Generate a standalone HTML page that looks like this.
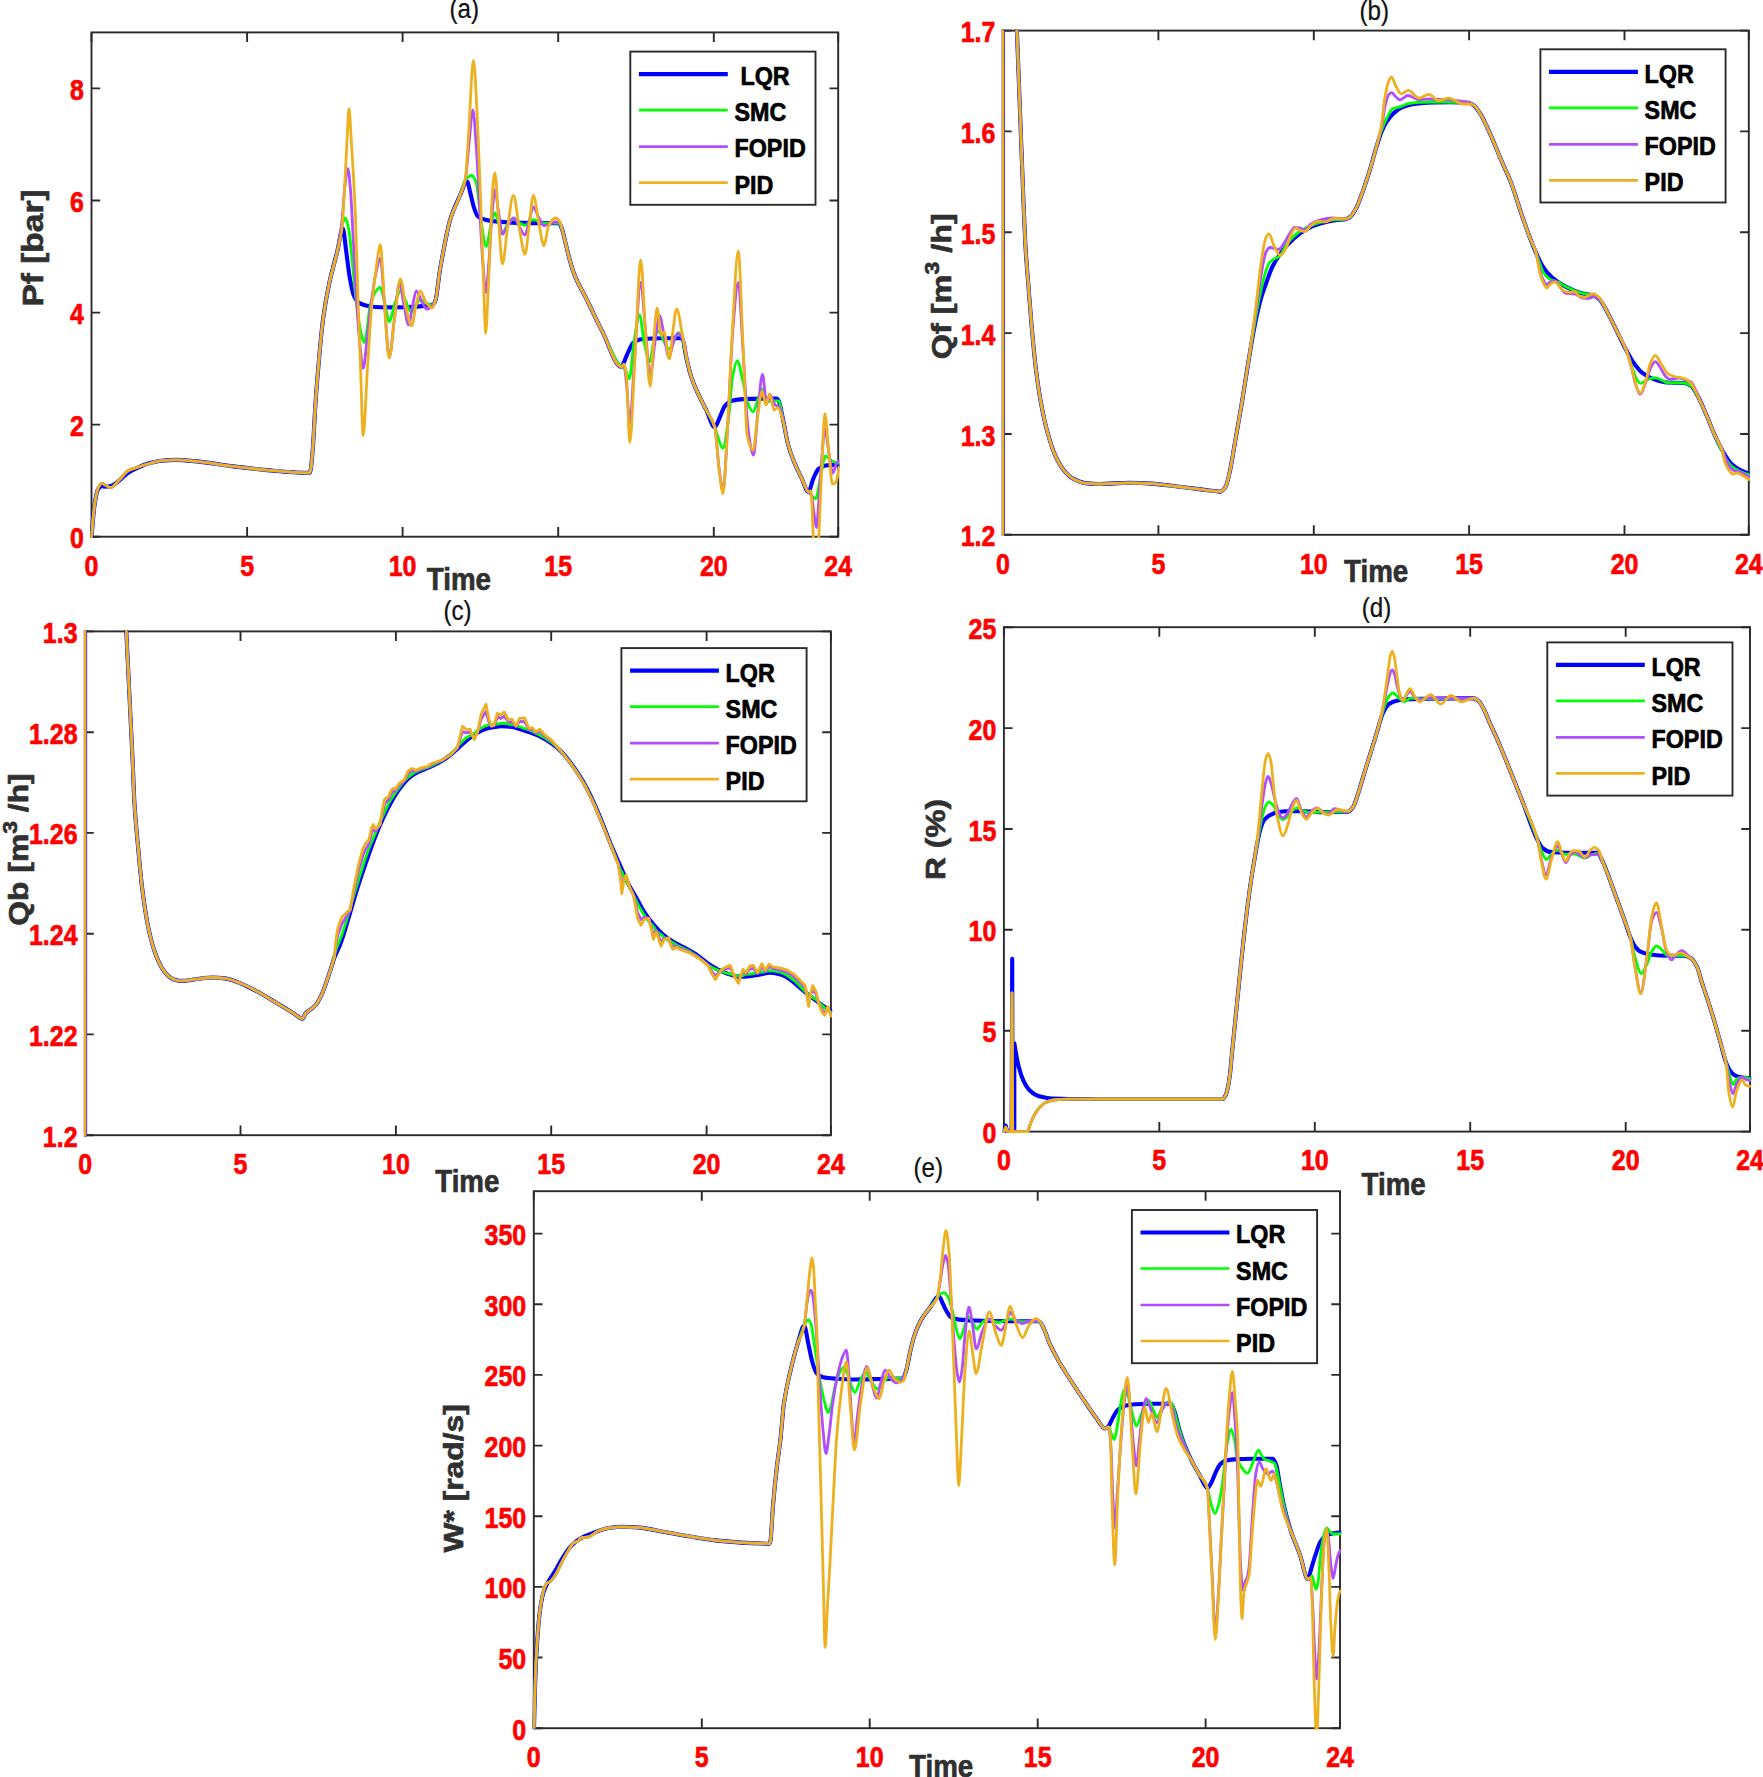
<!DOCTYPE html>
<html lang="en"><head><meta charset="utf-8"><title>Controller comparison</title>
<style>html,body{margin:0;padding:0;background:#fff}body{width:1763px;height:1777px;overflow:hidden}</style></head>
<body>
<svg width="1763" height="1777" viewBox="0 0 1763 1777" style="display:block;font-family:'Liberation Sans',sans-serif">
<rect width="1763" height="1777" fill="#fff"/>
<path d="M91.5,536.7v-9.6M91.5,32.4v9.6M247.1,536.7v-9.6M247.1,32.4v9.6M402.6,536.7v-9.6M402.6,32.4v9.6M558.2,536.7v-9.6M558.2,32.4v9.6M713.8,536.7v-9.6M713.8,32.4v9.6M838.2,536.7v-9.6M838.2,32.4v9.6M91.5,536.7h8.7M838.2,536.7h-8.7M91.5,424.6h8.7M838.2,424.6h-8.7M91.5,312.6h8.7M838.2,312.6h-8.7M91.5,200.5h8.7M838.2,200.5h-8.7M91.5,88.4h8.7M838.2,88.4h-8.7" stroke="#2a2a2a" stroke-width="1.9" fill="none"/>
<rect x="91.5" y="32.4" width="746.7" height="504.3" fill="none" stroke="#2a2a2a" stroke-width="1.9"/>
<clipPath id="ca"><rect x="90.2" y="31.1" width="749.3" height="506.9"/></clipPath>
<g clip-path="url(#ca)" fill="none" stroke-linejoin="round" stroke-linecap="round">
<path d="M91.6,536.6C92.6,523.6 93.5,511.9 94.5,505.5C95.6,498 96.8,491.1 97.9,489.5C99.2,487.7 100.5,486.3 101.8,486.3C103,486.3 104.3,486.6 105.5,486.6C107.2,486.6 108.9,486.3 110.6,486C113.4,485.5 116.3,482.7 119.1,480.6C122.2,478.3 125.4,474.7 128.5,472.6C131.1,470.9 133.6,469.6 136.2,468.4C140.2,466.5 144.1,464.5 148.1,463.4C152.6,462.2 157.2,461.1 161.7,460.7C166.2,460.3 170.8,459.9 175.3,459.9C183.2,459.9 191.2,460.9 199.1,461.6C210.4,462.7 221.8,465 233.1,466.4C244.5,467.8 255.8,469 267.2,470.1C275.7,470.9 284.2,471.9 292.7,472.3C298.4,472.5 304,472.8 309.7,472.8C310,472.8 310.3,471.3 310.6,470C311.4,466.5 312.2,455.8 313,445.7C313.8,435.1 314.7,415.2 315.5,403.1C316.6,386.6 317.8,373.2 318.9,360.6C320.3,344.7 321.8,328.7 323.2,318.1C325.2,303.6 327.1,293.4 329.1,284C331.9,270.5 334.8,261.7 337.6,250C339.3,243 341,228.3 342.7,228.3C343.9,228.3 345,243 346.2,251.2C347.3,259.1 348.5,270.3 349.6,276.7C351,284.6 352.4,292.1 353.8,295.4C355.2,298.8 356.7,301.1 358.1,302.2C360.4,303.9 362.6,304.7 364.9,305.3C368.3,306.2 371.7,306.9 375.1,307C380.8,307.2 386.4,307.4 392.1,307.4C397.8,307.4 403.4,307.2 409.1,307C414.8,306.8 420.4,306.3 426.1,305.6C428.7,305.3 431.2,305.2 433.8,304C434.4,303.7 434.9,302.2 435.5,300.5C436.9,296.4 438.3,280.2 439.7,271.6C441.1,262.8 442.6,255 444,247.8C446,237.9 447.9,227.1 449.9,220.6C453.3,209.2 456.8,202.6 460.2,195C462.5,190 464.7,181.4 467,181.4C468.1,181.4 469.3,189.1 470.4,193.3C471.5,197.5 472.7,203.5 473.8,207C474.9,210.5 476.1,214.3 477.2,215.5C478.9,217.4 480.6,218.3 482.3,218.9C485.1,219.9 488,220.5 490.8,220.9C497.6,221.8 504.4,222.4 511.2,222.6C519.7,222.9 528.2,223.1 536.7,223.1C544.1,223.1 551.4,223.1 558.8,223.1C559.9,223.1 560.9,226.3 562,229C563,231.6 564.1,237.1 565.1,241.2C566.8,247.9 568.5,255.8 570.2,261.6C571.9,267.4 573.6,272.8 575.3,276.9C578.7,285.2 582.1,290.2 585.5,297C591.2,308.4 596.8,320.8 602.5,331.9C608.8,344.1 615,366.8 621.3,366.8C621.6,366.8 621.8,366.3 622.1,365.9C624.1,363.1 626.1,356.4 628.1,352.3C629.8,348.9 631.5,344.3 633.2,342.9C635.5,341.1 637.7,339.9 640,339.5C642.8,339 645.7,338.9 648.5,338.7C653,338.5 657.6,338.2 662.1,338.2C668.3,338.2 674.6,338.2 680.8,338.2C681.4,338.2 681.9,338.4 682.5,338.7C683.6,339.3 684.8,350.6 685.9,355.7C687.6,363.3 689.3,370.8 691,376.1C693.3,383.2 695.5,388 697.8,393.1C700.6,399.4 703.5,404.5 706.3,410.2C709.1,415.9 712,427.2 714.8,427.2C716.5,427.2 718.2,420.5 719.9,417C721.6,413.5 723.3,407.8 725,405.9C727.3,403.3 729.6,401.4 731.9,400.8C735.9,399.8 739.8,399.3 743.8,399.1C749.5,398.8 755.1,398.6 760.8,398.6C766.2,398.6 771.6,398.6 777,398.6C777.6,398.6 778.1,399.8 778.7,400.8C780.1,403.4 781.5,412.3 782.9,418.7C784.6,426.5 786.3,437.8 788,444.2C789.7,450.6 791.4,455.1 793.1,459.5C795.9,466.8 798.8,472.3 801.6,478.2C803.9,482.9 806.1,491.8 808.4,491.8C810.1,491.8 811.8,481.9 813.5,478.2C815.2,474.5 816.9,470.3 818.6,468.9C820.9,467.1 823.1,465.8 825.4,465.5C827.7,465.2 830,464.9 832.3,464.9C834.5,464.9 836.8,465.1 839,465.5" stroke="#0000ff" stroke-width="4.1"/>
<path d="M91.6,536.6C92.6,523.7 93.5,512.2 94.5,505.5C95.6,497.7 96.8,490.9 97.9,488.5C99.2,485.8 100.5,483.4 101.8,483.4C103,483.4 104.3,484.5 105.5,485.1C107.2,485.9 108.9,487.5 110.6,487.5C113.4,487.5 116.3,482.7 119.1,480C122.2,477.1 125.4,472.3 128.5,470.6C131.1,469.2 133.6,468.5 136.2,467.6C140.2,466.2 144.1,464.9 148.1,463.8C152.6,462.6 157.2,461.1 161.7,460.7C166.2,460.3 170.8,459.9 175.3,459.9C183.2,459.9 191.2,460.9 199.1,461.6C210.4,462.7 221.8,465 233.1,466.4C244.5,467.8 255.8,469 267.2,470.1C275.7,470.9 284.2,471.9 292.7,472.3C298.4,472.5 304,472.8 309.7,472.8C310,472.8 310.3,471.3 310.6,470C311.4,466.5 312.2,455.8 313,445.7C313.8,435.1 314.7,415.2 315.5,403.1C316.6,386.6 317.8,373.2 318.9,360.6C320.3,344.7 321.8,328.7 323.2,318.1C325.2,303.6 327.1,293.4 329.1,284C331.9,270.5 334.8,263.4 337.6,250C339,243.2 340.5,230.7 341.9,226C343,222.3 344.2,218 345.3,218C346.4,218 347.6,223.7 348.7,229.1C349.8,234.5 351,248.7 352.1,259.7C353.2,270.7 354.4,285.3 355.5,295.4C356.4,303.2 357.2,310 358.1,315.9C359.1,322.4 360,329.2 361,333C362.1,337.4 363.3,342.7 364.4,342.7C365.3,342.7 366.3,333.9 367.2,328C368.1,322.1 369.1,310.1 370,306.2C371.7,299.1 373.4,295 375.1,292.5C376.8,290 378.5,287.4 380.2,287.4C381.6,287.4 383,295.9 384.4,301C386,306.9 387.6,321.5 389.2,321.5C391.3,321.5 393.4,306.2 395.5,301C397.2,296.8 398.9,290.8 400.6,290.8C402.3,290.8 404,297.5 405.7,301C407.5,304.6 409.2,312 411,312C414,312 417,300 420,300C423.7,300 427.3,305 431,305C431.9,305 432.9,304.6 433.8,304C434.4,303.6 434.9,302.2 435.5,300.5C436.9,296.4 438.3,280.2 439.7,271.6C441.1,262.8 442.6,255 444,247.8C446,237.9 447.9,227.1 449.9,220.6C453.3,209.2 456.8,204.4 460.2,195C461.9,190.3 463.6,181.6 465.3,179.7C467.4,177.3 469.6,175.5 471.7,175.5C473.2,175.5 474.8,178.9 476.3,183.1C477.7,187 479.2,208.1 480.6,217.2C482.5,229.1 484.3,246.4 486.2,246.4C487.7,246.4 489.3,231.3 490.8,225.7C492.2,220.7 493.5,212.9 494.9,212.9C496.1,212.9 497.2,219.1 498.4,222.3C499.7,225.8 500.9,233.3 502.2,233.3C504.1,233.3 505.9,226 507.8,224C509.8,221.8 511.8,219.2 513.8,219.2C515.8,219.2 517.7,222.1 519.7,223.1C521.4,224 523.1,225.3 524.8,225.3C527.6,225.3 530.5,219.7 533.3,219.7C536.7,219.7 540.1,223.1 543.5,223.1C548.6,223.1 553.7,223.1 558.8,223.1C559.9,223.1 560.9,226.3 562,229C563,231.6 564.1,237.1 565.1,241.2C566.8,247.9 568.5,255.8 570.2,261.6C571.9,267.4 573.6,272.8 575.3,276.9C578.7,285.2 582.1,290.2 585.5,297C591.2,308.4 596.8,320.8 602.5,331.9C608.8,344.1 615,361.7 621.3,366.8C622.5,367.8 623.8,367.9 625,369C626.4,370.3 627.9,378.7 629.3,378.7C630.9,378.7 632.4,351.6 634,342.1C635.8,330.9 637.7,314.9 639.5,314.9C641.1,314.9 642.6,335.1 644.2,342.1C646,350.2 647.9,361.7 649.7,361.7C651,361.7 652.3,346.6 653.6,342.1C655,337.2 656.4,331 657.8,331C661.5,331 665.2,348.9 668.9,348.9C672.1,348.9 675.4,332.7 678.6,332.7C679.9,332.7 681.2,335 682.5,337.8C683.6,340.2 684.8,350.5 685.9,355.7C687.6,363.5 689.3,370.8 691,376.1C693.3,383.2 695.5,388 697.8,393.1C700.6,399.4 703.5,404.5 706.3,410.2C709.1,415.9 712,420.1 714.8,427.2C716.2,430.8 717.7,437.2 719.1,440.8C720.3,443.9 721.6,448.4 722.8,448.4C724.7,448.4 726.6,432 728.5,418.7C729.9,408.9 731.3,383.2 732.7,376.1C734.2,368.4 735.8,360.8 737.3,360.8C739.2,360.8 741,373.5 742.9,381.2C744.3,387.1 745.8,397.9 747.2,401.6C749.2,406.7 751.1,411.9 753.1,411.9C754.8,411.9 756.5,402.3 758.2,398.2C759.6,394.8 761.1,388.9 762.5,388.9C763.9,388.9 765.3,401.6 766.7,401.6C769.8,401.6 773,400.8 776.1,400.8C777,400.8 777.8,400.8 778.7,400.8C780.1,400.8 781.5,412.3 782.9,418.7C784.6,426.5 786.3,437.8 788,444.2C789.7,450.6 791.4,455.1 793.1,459.5C795.9,466.8 798.8,472.3 801.6,478.2C803.9,482.9 806.1,488.5 808.4,491.8C809.4,493.3 810.5,494.5 811.5,495.5C812.9,496.8 814.3,498.6 815.7,498.6C817.2,498.6 818.8,484.9 820.3,478.2C822,470.7 823.7,456.1 825.4,456.1C827.7,456.1 830,460.1 832.3,461.2C834,462 835.6,462.8 837.3,462.9C837.9,463 838.4,463 839,463" stroke="#00ff00" stroke-width="2.8"/>
<path d="M91.6,536.6C92.6,523.7 93.5,512.2 94.5,505.5C95.6,497.7 96.8,490.9 97.9,488.5C99.2,485.8 100.5,483.4 101.8,483.4C103,483.4 104.3,484.5 105.5,485.1C107.2,485.9 108.9,487.5 110.6,487.5C113.4,487.5 116.3,482.7 119.1,480C122.2,477.1 125.4,472.3 128.5,470.6C131.1,469.2 133.6,468.5 136.2,467.6C140.2,466.2 144.1,464.9 148.1,463.8C152.6,462.6 157.2,461.1 161.7,460.7C166.2,460.3 170.8,459.9 175.3,459.9C183.2,459.9 191.2,460.9 199.1,461.6C210.4,462.7 221.8,465 233.1,466.4C244.5,467.8 255.8,469 267.2,470.1C275.7,470.9 284.2,471.9 292.7,472.3C298.4,472.5 304,472.8 309.7,472.8C310,472.8 310.3,471.3 310.6,470C311.4,466.5 312.2,455.8 313,445.7C313.8,435.1 314.7,415.2 315.5,403.1C316.6,386.6 317.8,373.2 318.9,360.6C320.3,344.7 321.8,328.7 323.2,318.1C325.2,303.6 327.1,293.4 329.1,284C331.9,270.5 334.8,264.4 337.6,250C339,242.7 340.5,234.3 341.9,222C342.9,213.2 344,192.9 345,185C346,177.6 346.9,168.7 347.9,168.7C348.8,168.7 349.6,180.2 350.5,190C351.3,199.4 352.2,219.6 353,235C354,253.5 355,276 356,292C357.2,310.7 358.3,328.5 359.5,340C360.7,352.1 362,368.3 363.2,368.3C364.5,368.3 365.7,350.2 367,340C368.3,329.3 369.7,315.1 371,305C372.5,293.6 374,281.7 375.5,275C377.1,267.7 378.8,258.5 380.4,258.5C381.7,258.5 383.1,288.1 384.4,303C386,320.9 387.6,357 389.2,357C391,357 392.7,330.7 394.5,318C396.2,306 397.8,283 399.5,283C401,283 402.5,298.1 404,305C405.5,312 407.1,324.9 408.6,324.9C409.9,324.9 411.2,311.7 412.5,306C413.8,300.5 415,290.8 416.3,290.8C418,290.8 419.8,298.1 421.5,301C423.3,304.1 425.2,309.2 427,309.2C429.3,309.2 431.5,306.8 433.8,304C434.4,303.3 434.9,302.2 435.5,300.5C436.9,296.4 438.3,280.2 439.7,271.6C441.1,262.8 442.6,255 444,247.8C446,237.9 447.9,227.1 449.9,220.6C453.3,209.2 456.8,204.4 460.2,195C461.9,190.3 463.6,187.7 465.3,179.7C466.5,174 467.7,156 468.9,145C470.2,132.8 471.6,110 472.9,110C474.1,110 475.3,133.3 476.5,150C477.7,166.2 478.8,194.5 480,215C481,232.5 482,253.2 483,265C484,276.8 485,292.5 486,292.5C487,292.5 488,272.6 489,260C490,247.4 491,225.9 492,215C493,204.4 493.9,190 494.9,190C496.1,190 497.3,204.9 498.5,212C499.8,219.7 501.1,234.2 502.4,234.2C504.3,234.2 506.1,227.6 508,225C509.9,222.3 511.9,218 513.8,218C515.7,218 517.6,224.1 519.5,227C521.3,229.8 523.2,235 525,235C526.4,235 527.8,225.7 529.2,221C530.6,216.4 531.9,207 533.3,207C535,207 536.8,214 538.5,217C540.3,220.2 542.2,225.7 544,225.7C547.8,225.7 551.6,222 555.4,222C556.8,222 558.3,222 559.7,222C560.5,222 561.2,226.4 562,229C563,232.5 564.1,237.1 565.1,241.2C566.8,247.9 568.5,255.8 570.2,261.6C571.9,267.4 573.6,272.8 575.3,276.9C578.7,285.2 582.1,290.2 585.5,297C591.2,308.4 596.8,320.8 602.5,331.9C608.8,344.1 615,366.8 621.3,366.8C622.2,366.8 623.1,366 624,366C624.9,366 625.7,377.2 626.6,385C627.7,394.6 628.7,423.8 629.8,423.8C631.4,423.8 632.9,380.3 634.5,360C636.6,332.8 638.7,282.5 640.8,282.5C642.3,282.5 643.8,313.1 645.3,328C646.9,344.3 648.6,376.1 650.2,376.1C651.8,376.1 653.4,352.3 655,342C656.5,332.4 658,315.7 659.5,315.7C661,315.7 662.5,328.4 664,335C665.6,342.2 667.3,357.4 668.9,357.4C670.4,357.4 671.8,346.9 673.3,343C674.7,339.3 676,333.6 677.4,333.6C679.7,333.6 681.9,336.9 684.2,342.1C685.1,344.1 685.9,353 686.8,357.4C688.2,364.6 689.6,371.5 691,376.1C693.3,383.5 695.5,388 697.8,393.1C700.6,399.4 703.5,404.5 706.3,410.2C709.1,415.9 712,417.1 714.8,427.2C716.2,432.3 717.7,458.4 719.1,468.5C720.4,477.7 721.7,490.5 723,490.5C724.5,490.5 726.1,452.1 727.6,428C729.3,401.2 731,352.8 732.7,332C734.5,309.6 736.4,282.5 738.2,282.5C739.8,282.5 741.4,326.3 743,350C744.7,374.6 746.3,415.4 748,428C749.8,441.9 751.7,455.2 753.5,455.2C755,455.2 756.5,423.3 758,410C759.5,396.7 761,374.4 762.5,374.4C763.9,374.4 765.3,403.3 766.7,403.3C767.8,403.3 769,394.8 770.1,394.8C771.8,394.8 773.5,403.7 775.2,405C776.6,406.1 778.1,405.8 779.5,407C780.7,408 782,414.9 783.2,420C784.8,426.6 786.4,438.2 788,444.2C789.7,450.6 791.4,455.1 793.1,459.5C795.9,466.8 798.8,472.3 801.6,478.2C803.9,482.9 806.1,488.8 808.4,491.8C809.4,493.2 810.5,493.1 811.5,495C812.3,496.4 813,506.9 813.8,512C814.7,517.8 815.5,527.6 816.4,527.6C817.3,527.6 818.3,507 819.2,495C820.1,483 821.1,465.1 822,455C823,444.2 824,428.9 825,428.9C826.3,428.9 827.5,444.8 828.8,452C830.1,459.5 831.5,473.1 832.8,473.1C834.3,473.1 835.8,463.3 837.3,462C837.9,461.5 838.4,461 839,461" stroke="#b24dff" stroke-width="2.8"/>
<path d="M91.6,536.6C92.6,523.7 93.5,512.2 94.5,505.5C95.6,497.7 96.8,490.9 97.9,488.5C99.2,485.8 100.5,483.4 101.8,483.4C103,483.4 104.3,484.5 105.5,485.1C107.2,485.9 108.9,487.5 110.6,487.5C113.4,487.5 116.3,482.7 119.1,480C122.2,477.1 125.4,472.3 128.5,470.6C131.1,469.2 133.6,468.5 136.2,467.6C140.2,466.2 144.1,464.9 148.1,463.8C152.6,462.6 157.2,461.1 161.7,460.7C166.2,460.3 170.8,459.9 175.3,459.9C183.2,459.9 191.2,460.9 199.1,461.6C210.4,462.7 221.8,465 233.1,466.4C244.5,467.8 255.8,469 267.2,470.1C275.7,470.9 284.2,471.9 292.7,472.3C298.4,472.5 304,472.8 309.7,472.8C310,472.8 310.3,471.3 310.6,470C311.4,466.5 312.2,455.8 313,445.7C313.8,435.1 314.7,415.2 315.5,403.1C316.6,386.6 317.8,373.2 318.9,360.6C320.3,344.7 321.8,328.7 323.2,318.1C325.2,303.6 327.1,293.4 329.1,284C331.9,270.5 334.8,262.6 337.6,250C339,243.6 340.5,240.1 341.9,229.1C342.7,222.7 343.6,205.8 344.4,191.6C345.3,176.9 346.1,155.8 347,140.6C347.7,128.9 348.3,108.6 349,108.6C349.8,108.6 350.5,128.7 351.3,140.6C352.7,162.4 354.1,183.7 355.5,217.2C356.4,238 357.2,276.7 358.1,302.2C358.9,326.7 359.8,347.3 360.6,369.1C361.5,391.8 362.3,435.5 363.2,435.5C364.6,435.5 366,390.4 367.4,369.1C368.8,347.3 370.3,321.6 371.7,306.2C373.1,291.1 374.5,280 375.9,270.4C377.4,260.1 378.9,244.7 380.4,244.7C381.7,244.7 383.1,285 384.4,302.2C386,322.8 387.6,358 389.2,358C391,358 392.8,330.8 394.6,318.1C396.5,304.4 398.5,278.9 400.4,278.9C402.2,278.9 403.9,299.1 405.7,306.2C407.7,314.2 409.7,325.7 411.7,325.7C413.1,325.7 414.5,311.9 415.9,306.2C417.3,300.4 418.8,290.8 420.2,290.8C422.2,290.8 424.1,300.3 426.1,302.7C428.1,305.1 430.1,307.9 432.1,307.9C433.2,307.9 434.4,304.2 435.5,300.5C436.9,296 438.3,280.2 439.7,271.6C441.1,262.8 442.6,255 444,247.8C446,237.9 447.9,227.1 449.9,220.6C453.3,209.2 456.8,204.4 460.2,195C461.9,190.3 463.6,188.5 465.3,179.7C466.4,173.8 467.6,148.6 468.7,132.1C470.3,109.3 471.8,60.3 473.4,60.3C474.7,60.3 475.9,91.8 477.2,115.1C478.3,135.9 479.5,170.6 480.6,200.2C481.4,222 482.3,246.5 483.1,268.2C484,290.8 484.8,333 485.7,333C486.5,333 487.4,306.5 488.2,290C488.8,278.8 489.3,264.2 489.9,251.2C490.8,231.4 491.6,201.6 492.5,191.6C493.3,182.4 494.1,172.9 494.9,172.9C496.1,172.9 497.2,203 498.4,217.2C499.7,233.4 501.1,264 502.4,264C504.2,264 506,236.8 507.8,225.7C509.7,214.2 511.5,195.4 513.4,195.4C515.5,195.4 517.6,220.4 519.7,230.8C521.5,239.5 523.2,254.3 525,254.3C526.4,254.3 527.7,235.4 529.1,225.7C530.5,215.8 531.9,195.4 533.3,195.4C535.3,195.4 537.3,216.5 539.3,225.7C540.9,232.9 542.4,245.8 544,245.8C545.5,245.8 547.1,228.6 548.6,225.7C550.9,221.5 553.1,218 555.4,218C556.8,218 558.3,219.5 559.7,221.4C560.5,222.4 561.2,226.3 562,229C563,232.7 564.1,237.1 565.1,241.2C566.8,247.9 568.5,255.8 570.2,261.6C571.9,267.4 573.6,272.8 575.3,276.9C578.7,285.2 582.1,290.2 585.5,297C591.2,308.4 596.8,320.8 602.5,331.9C608.8,344.1 615,366.8 621.3,366.8C622.1,366.8 623,364.2 623.8,364.2C624.7,364.2 625.5,369.8 626.4,376.1C627.5,384.3 628.7,442.5 629.8,442.5C631.5,442.5 633.2,387.2 634.9,359.1C636.9,326.5 638.8,260.1 640.8,260.1C642.2,260.1 643.7,305.9 645.1,325.1C646.8,347.9 648.5,386.3 650.2,386.3C651.3,386.3 652.5,354.9 653.6,342.1C654.7,329.3 655.9,308.1 657,308.1C658.4,308.1 659.8,335.3 661.2,335.3C662.2,335.3 663.1,331.9 664.1,331.9C665.9,331.9 667.6,359.1 669.4,359.1C670.7,359.1 671.9,337 673.2,328.5C674.3,320.9 675.5,308.9 676.6,308.9C678.6,308.9 680.5,325.5 682.5,335.3C683.9,342.4 685.4,352.4 686.8,359.1C688.2,365.6 689.6,371.7 691,376.1C693.3,383.2 695.5,388 697.8,393.1C700.6,399.4 703.5,404.5 706.3,410.2C709.1,415.9 712,417 714.8,427.2C716.2,432.3 717.7,458.9 719.1,469.7C720.4,479.5 721.7,493.5 723,493.5C724.5,493.5 726.1,452.8 727.6,427.2C729.3,398.8 731,352.5 732.7,325.1C734.5,295.5 736.4,251.1 738.2,251.1C739.8,251.1 741.3,310 742.9,342.1C744.3,371.5 745.8,429.1 747.2,435.7C749.2,444.7 751.1,450.1 753.1,450.1C754.5,450.1 756,428 757.4,418.7C759,408.5 760.5,391.4 762.1,391.4C763.4,391.4 764.6,405 765.9,405C767.1,405 768.4,394 769.6,394C771.1,394 772.6,410.2 774.1,410.2C775.3,410.2 776.6,407.6 777.8,407.6C779.5,407.6 781.2,414.9 782.9,420.4C784.6,425.9 786.3,438 788,444.2C789.7,450.4 791.4,455.1 793.1,459.5C795.9,466.8 798.8,472.3 801.6,478.2C803.9,482.9 806.1,491.8 808.4,491.8C809.3,491.8 810.1,491 811,491C811.8,491 812.7,529.9 813.5,540C814.5,552.2 815.5,566 816.5,566C817.2,566 817.9,551 818.6,540C819.7,522.1 820.9,482.9 822,461.2C823,442.7 823.9,413.6 824.9,413.6C826.2,413.6 827.5,440.9 828.8,452.7C830.1,464.2 831.3,484.2 832.6,484.2C834.7,484.2 836.9,484.2 839,467.2" stroke="#edb120" stroke-width="2.8"/>
</g>
<text transform="translate(91.5,575.6) scale(0.84,1)" font-size="29.7" fill="#ff0000" text-anchor="middle" font-weight="bold" stroke="#ff0000" stroke-width="0.7" stroke-linejoin="round">0</text>
<text transform="translate(247.1,575.6) scale(0.84,1)" font-size="29.7" fill="#ff0000" text-anchor="middle" font-weight="bold" stroke="#ff0000" stroke-width="0.7" stroke-linejoin="round">5</text>
<text transform="translate(402.6,575.6) scale(0.84,1)" font-size="29.7" fill="#ff0000" text-anchor="middle" font-weight="bold" stroke="#ff0000" stroke-width="0.7" stroke-linejoin="round">10</text>
<text transform="translate(558.2,575.6) scale(0.84,1)" font-size="29.7" fill="#ff0000" text-anchor="middle" font-weight="bold" stroke="#ff0000" stroke-width="0.7" stroke-linejoin="round">15</text>
<text transform="translate(713.8,575.6) scale(0.84,1)" font-size="29.7" fill="#ff0000" text-anchor="middle" font-weight="bold" stroke="#ff0000" stroke-width="0.7" stroke-linejoin="round">20</text>
<text transform="translate(838.2,575.6) scale(0.84,1)" font-size="29.7" fill="#ff0000" text-anchor="middle" font-weight="bold" stroke="#ff0000" stroke-width="0.7" stroke-linejoin="round">24</text>
<text transform="translate(83.9,548.2) scale(0.84,1)" font-size="29.7" fill="#ff0000" text-anchor="end" font-weight="bold" stroke="#ff0000" stroke-width="0.7" stroke-linejoin="round">0</text>
<text transform="translate(83.9,436.1) scale(0.84,1)" font-size="29.7" fill="#ff0000" text-anchor="end" font-weight="bold" stroke="#ff0000" stroke-width="0.7" stroke-linejoin="round">2</text>
<text transform="translate(83.9,324.1) scale(0.84,1)" font-size="29.7" fill="#ff0000" text-anchor="end" font-weight="bold" stroke="#ff0000" stroke-width="0.7" stroke-linejoin="round">4</text>
<text transform="translate(83.9,212) scale(0.84,1)" font-size="29.7" fill="#ff0000" text-anchor="end" font-weight="bold" stroke="#ff0000" stroke-width="0.7" stroke-linejoin="round">6</text>
<text transform="translate(83.9,99.9) scale(0.84,1)" font-size="29.7" fill="#ff0000" text-anchor="end" font-weight="bold" stroke="#ff0000" stroke-width="0.7" stroke-linejoin="round">8</text>
<rect x="630.3" y="51.6" width="185.2" height="153.2" fill="#fff" stroke="#2a2a2a" stroke-width="1.9"/>
<path d="M638.9,74.1h88.9" stroke="#0000ff" stroke-width="4.2" fill="none"/>
<text transform="translate(740.4,85) scale(0.88,1)" font-size="26.5" fill="#000" text-anchor="start" font-weight="bold" stroke="#000" stroke-width="0.7" stroke-linejoin="round">LQR</text>
<path d="M638.9,110.1h88.9" stroke="#00ff00" stroke-width="2.7" fill="none"/>
<text transform="translate(734.5,121.2) scale(0.88,1)" font-size="26.5" fill="#000" text-anchor="start" font-weight="bold" stroke="#000" stroke-width="0.7" stroke-linejoin="round">SMC</text>
<path d="M638.9,146.6h88.9" stroke="#b24dff" stroke-width="2.7" fill="none"/>
<text transform="translate(734.5,157.4) scale(0.88,1)" font-size="26.5" fill="#000" text-anchor="start" font-weight="bold" stroke="#000" stroke-width="0.7" stroke-linejoin="round">FOPID</text>
<path d="M638.9,182.6h88.9" stroke="#edb120" stroke-width="2.7" fill="none"/>
<text transform="translate(734.5,193.7) scale(0.88,1)" font-size="26.5" fill="#000" text-anchor="start" font-weight="bold" stroke="#000" stroke-width="0.7" stroke-linejoin="round">PID</text>
<text transform="translate(464.3,18.2) scale(0.88,1)" font-size="27.5" fill="#111" text-anchor="middle" stroke="#111" stroke-width="0.25">(a)</text>
<text transform="translate(458.9,589.9) scale(0.88,1)" font-size="31.5" fill="#303030" text-anchor="middle" font-weight="bold" stroke="#303030" stroke-width="0.7" stroke-linejoin="round">Time</text>
<text transform="translate(42.6,248) rotate(-90) scale(1,0.88)" font-size="33.5" fill="#303030" text-anchor="middle" font-weight="bold" stroke="#303030" stroke-width="0.7" stroke-linejoin="round">Pf [bar]</text>
<path d="M1003,534.8v-9.6M1003,30.6v9.6M1158.4,534.8v-9.6M1158.4,30.6v9.6M1313.8,534.8v-9.6M1313.8,30.6v9.6M1469.1,534.8v-9.6M1469.1,30.6v9.6M1624.5,534.8v-9.6M1624.5,30.6v9.6M1748.8,534.8v-9.6M1748.8,30.6v9.6M1003,534.8h8.7M1748.8,534.8h-8.7M1003,434h8.7M1748.8,434h-8.7M1003,333.1h8.7M1748.8,333.1h-8.7M1003,232.3h8.7M1748.8,232.3h-8.7M1003,131.4h8.7M1748.8,131.4h-8.7M1003,30.6h8.7M1748.8,30.6h-8.7" stroke="#2a2a2a" stroke-width="1.9" fill="none"/>
<rect x="1003" y="30.6" width="745.8" height="504.2" fill="none" stroke="#2a2a2a" stroke-width="1.9"/>
<clipPath id="cb"><rect x="1001.7" y="29.3" width="748.4" height="506.8"/></clipPath>
<g clip-path="url(#cb)" fill="none" stroke-linejoin="round" stroke-linecap="round">
<path d="M1003,30.6V534.8M1016.9,30.6C1019.1,94 1021.2,149.4 1023.4,200C1024.2,217.9 1024.9,237.4 1025.7,250C1026.6,264.2 1027.4,272.9 1028.3,284C1029.4,298.5 1030.6,313.9 1031.7,326.6C1033.1,342.3 1034.5,357.8 1035.9,369.1C1037.6,382.9 1039.3,393.9 1041,403.1C1043.3,415.5 1045.6,425.6 1047.9,433.8C1050.2,441.9 1052.4,449.1 1054.7,454.2C1057.5,460.6 1060.4,466 1063.2,469.5C1066.6,473.7 1070,477.1 1073.4,478.9C1077.4,480.9 1081.3,482.7 1085.3,483.1C1089.8,483.6 1094.4,484 1098.9,484C1109.1,484 1119.3,482.8 1129.5,482.8C1136.9,482.8 1144.2,483.2 1151.6,483.6C1160.1,484.1 1168.7,485.5 1177.2,486.5C1185.7,487.5 1194.2,488.6 1202.7,489.6C1207.2,490.2 1211.8,490.9 1216.3,491.3C1217.7,491.4 1219.2,491.6 1220.6,491.6C1222.3,491.6 1224,489.2 1225.7,486.5C1227.1,484.3 1228.5,477.4 1229.9,471.2C1231.6,463.7 1233.3,452 1235,442.3C1237.3,429.4 1239.5,416.7 1241.8,403.1C1244.1,389.5 1246.3,374.3 1248.6,360.6C1250.2,350.8 1251.9,340.7 1253.5,332C1255,324 1256.5,316.4 1258,310C1259.3,304.4 1260.7,299.3 1262,295C1263.5,290 1265.1,286 1266.6,281.8C1268.6,276.4 1270.5,270.4 1272.5,266.5C1275.3,260.8 1278.2,256.7 1281,252.9C1285,247.5 1289,242.9 1293,239.3C1297.5,235.2 1302.1,231.5 1306.6,229.1C1311.1,226.7 1315.7,224.9 1320.2,223.6C1325.3,222.1 1330.4,220.9 1335.5,220.2C1338.9,219.7 1342.3,219.8 1345.7,219.2C1347.4,218.9 1349.1,217.7 1350.8,216.3C1352.5,214.9 1354.2,211.8 1355.9,208.7C1358.2,204.5 1360.4,197.8 1362.7,191.6C1365,185.4 1367.2,178.5 1369.5,171.2C1371.8,163.9 1374,154.7 1376.3,147.4C1378,141.9 1379.7,136.2 1381.4,132.1C1383.1,128 1384.8,124.5 1386.5,121.9C1388.8,118.4 1391,115.5 1393.3,113.4C1396.2,110.8 1399,108.6 1401.9,107.4C1405.9,105.8 1409.8,104.6 1413.8,104C1418.3,103.3 1422.9,102.8 1427.4,102.7C1435.3,102.5 1443.3,102.3 1451.2,102.3C1456.9,102.3 1462.5,102.4 1468.2,102.8C1469.9,102.9 1471.6,103.9 1473.3,104.9C1475.6,106.3 1477.8,109.9 1480.1,113.4C1482.9,117.7 1485.8,124.3 1488.6,130.4C1493.2,140.2 1497.7,152.2 1502.3,162.7C1505.1,169.1 1507.8,174.4 1510.6,181.5C1514.6,191.7 1518.6,205.9 1522.6,217.4C1525.1,224.5 1527.5,231.6 1530,238C1532.1,243.4 1534.1,248.6 1536.2,253.2C1538.5,258.2 1540.7,263.4 1543,266.8C1545.8,271.1 1548.7,274.5 1551.5,277C1556,281 1560.6,284 1565.1,286.3C1570.8,289.2 1576.4,291.7 1582.1,293.2C1586.1,294.3 1590,294.3 1594,295.7C1595.7,296.3 1597.4,297.6 1599.1,299.1C1601.9,301.7 1604.8,307.7 1607.6,312.7C1610.4,317.7 1613.3,324 1616.1,329.7C1619.5,336.5 1622.9,343.9 1626.3,350.2C1628.6,354.4 1630.9,358.8 1633.2,362.1C1636,366.1 1638.9,370.1 1641.7,372.3C1645.7,375.4 1649.6,377.7 1653.6,379.1C1658.1,380.7 1662.7,382.3 1667.2,382.5C1672.9,382.8 1678.5,382.6 1684.2,383C1686.5,383.1 1688.7,384.4 1691,385.9C1693.3,387.4 1695.5,392.1 1697.8,396.1C1700.6,401.1 1703.5,408.3 1706.3,414.8C1709.1,421.3 1712,429 1714.8,435.2C1717.6,441.4 1720.5,447.5 1723.3,452.2C1726.1,456.9 1729,461.6 1731.8,464.2C1734.7,466.8 1737.5,468.7 1740.4,470.1C1743.2,471.5 1746.1,472.8 1748.9,473.5" stroke="#0000ff" stroke-width="4.1"/>
<path d="M1016.9,30.6C1019.1,94 1021.2,149.4 1023.4,200C1024.2,217.9 1024.9,237.4 1025.7,250C1026.6,264.2 1027.4,272.9 1028.3,284C1029.4,298.5 1030.6,313.9 1031.7,326.6C1033.1,342.3 1034.5,357.8 1035.9,369.1C1037.6,382.9 1039.3,393.9 1041,403.1C1043.3,415.5 1045.6,425.6 1047.9,433.8C1050.2,441.9 1052.4,449.1 1054.7,454.2C1057.5,460.6 1060.4,466 1063.2,469.5C1066.6,473.7 1070,477.1 1073.4,478.9C1077.4,480.9 1081.3,482.7 1085.3,483.1C1089.8,483.6 1094.4,484 1098.9,484C1109.1,484 1119.3,482.8 1129.5,482.8C1136.9,482.8 1144.2,483.2 1151.6,483.6C1160.1,484.1 1168.7,485.5 1177.2,486.5C1185.7,487.5 1194.2,488.6 1202.7,489.6C1207.2,490.2 1211.8,490.9 1216.3,491.3C1217.7,491.4 1219.2,491.6 1220.6,491.6C1222.3,491.6 1224,489.2 1225.7,486.5C1227.1,484.3 1228.5,477.4 1229.9,471.2C1231.6,463.7 1233.3,452 1235,442.3C1237.3,429.4 1239.5,416.7 1241.8,403.1C1244.1,389.5 1246.3,374.5 1248.6,360.6C1250.2,350.6 1251.9,340.6 1253.5,331C1255,322.1 1256.5,312.8 1258,305C1259.3,298.1 1260.7,291.8 1262,286C1263.2,280.9 1264.3,275.6 1265.5,272C1266.7,268.3 1267.9,264.6 1269.1,263.1C1270.7,261 1272.4,260 1274,259C1275.8,257.9 1277.5,257.6 1279.3,256.3C1282.1,254.2 1285,246.2 1287.8,242.7C1291.2,238.5 1294.7,235 1298.1,232.5C1300.9,230.4 1303.8,228.7 1306.6,227.4C1311.1,225.3 1315.7,223.4 1320.2,222.3C1325.3,221.1 1330.4,220.1 1335.5,219.7C1338.9,219.5 1342.3,219.5 1345.7,219.2C1347.4,219 1349.1,217.7 1350.8,216.3C1352.5,214.9 1354.2,211.8 1355.9,208.7C1358.2,204.5 1360.4,197.8 1362.7,191.6C1365,185.4 1367.2,178.5 1369.5,171.2C1371.8,163.9 1374,155 1376.3,147.4C1378,141.7 1379.7,135.7 1381.4,131C1383.1,126.3 1384.8,121.8 1386.5,118.5C1388.5,114.7 1390.5,110.2 1392.5,109.1C1395.1,107.7 1397.6,107.5 1400.2,106.6C1403,105.6 1405.9,104 1408.7,103.5C1412.7,102.9 1416.6,102.4 1420.6,102.3C1425.1,102.1 1429.7,102 1434.2,102C1439.9,102 1445.5,102.2 1451.2,102.3C1456.9,102.4 1462.5,102.4 1468.2,102.8C1469.9,102.9 1471.6,103.9 1473.3,104.9C1475.6,106.3 1477.8,109.9 1480.1,113.4C1482.9,117.7 1485.8,124.3 1488.6,130.4C1493.2,140.2 1497.7,152.2 1502.3,162.7C1505.1,169.1 1507.8,174.4 1510.6,181.5C1514.6,191.7 1518.6,205.9 1522.6,217.4C1525.1,224.5 1527.5,231.6 1530,238C1532.1,243.4 1534.1,247.7 1536.2,253.2C1537.5,256.6 1538.7,260.5 1540,264C1541,266.7 1542,270.2 1543,271.9C1544.7,274.7 1546.4,276.5 1548.1,277.8C1549.7,279 1551.4,279.9 1553,280.5C1554.8,281.2 1556.5,281.4 1558.3,282.1C1560.6,283 1562.8,285.2 1565.1,286.3C1570.8,289.2 1576.4,291.7 1582.1,293.2C1586.1,294.3 1590,294.3 1594,295.7C1595.7,296.3 1597.4,297.6 1599.1,299.1C1601.9,301.7 1604.8,307.7 1607.6,312.7C1610.4,317.7 1613.3,324 1616.1,329.7C1619.5,336.5 1622.9,342 1626.3,350.2C1628.6,355.8 1630.9,364.5 1633.2,370.6C1634.5,374 1635.7,378.4 1637,380C1638.3,381.6 1639.5,383.3 1640.8,383.3C1643.4,383.3 1645.9,379.8 1648.5,379.1C1650.8,378.5 1653,377.9 1655.3,377.9C1657.2,377.9 1659.1,379.1 1661,379.8C1663.1,380.6 1665.1,382.4 1667.2,382.5C1672.9,382.9 1678.5,382.6 1684.2,383C1686.5,383.1 1688.7,384.4 1691,385.9C1693.3,387.4 1695.5,392.1 1697.8,396.1C1700.6,401.1 1703.5,408.3 1706.3,414.8C1709.1,421.3 1712,428.7 1714.8,435.2C1716.9,440 1718.9,444.7 1721,449C1722.7,452.5 1724.3,456.4 1726,459C1728,462.1 1730,464.9 1732,466.5C1734.8,468.8 1737.6,470.3 1740.4,471.5C1743.2,472.8 1746.1,473.8 1748.9,474.5" stroke="#00ff00" stroke-width="2.8"/>
<path d="M1016.9,30.6C1019.1,94 1021.2,149.4 1023.4,200C1024.2,217.9 1024.9,237.4 1025.7,250C1026.6,264.2 1027.4,272.9 1028.3,284C1029.4,298.5 1030.6,313.9 1031.7,326.6C1033.1,342.3 1034.5,357.8 1035.9,369.1C1037.6,382.9 1039.3,393.9 1041,403.1C1043.3,415.5 1045.6,425.6 1047.9,433.8C1050.2,441.9 1052.4,449.1 1054.7,454.2C1057.5,460.6 1060.4,466 1063.2,469.5C1066.6,473.7 1070,477.1 1073.4,478.9C1077.4,480.9 1081.3,482.7 1085.3,483.1C1089.8,483.6 1094.4,484 1098.9,484C1109.1,484 1119.3,482.8 1129.5,482.8C1136.9,482.8 1144.2,483.2 1151.6,483.6C1160.1,484.1 1168.7,485.5 1177.2,486.5C1185.7,487.5 1194.2,488.6 1202.7,489.6C1207.2,490.2 1211.8,490.9 1216.3,491.3C1217.7,491.4 1219.2,491.6 1220.6,491.6C1222.3,491.6 1224,489.2 1225.7,486.5C1227.1,484.3 1228.5,477.4 1229.9,471.2C1231.6,463.7 1233.3,452 1235,442.3C1237.3,429.4 1239.5,416.7 1241.8,403.1C1244.1,389.5 1246.3,375.3 1248.6,360.6C1250.2,350.4 1251.7,339.8 1253.3,329C1254.9,318.2 1256.4,306.6 1258,296C1259.3,287 1260.7,277.1 1262,270C1263.3,262.9 1264.7,254.4 1266,252C1267.3,249.6 1268.7,247.5 1270,247.5C1271.5,247.5 1273,248.1 1274.5,248.5C1275.8,248.8 1277.2,249.5 1278.5,249.5C1280.5,249.5 1282.4,245.4 1284.4,242.7C1286.3,240.1 1288.1,235.6 1290,233C1291.6,230.8 1293.1,227.4 1294.7,227.4C1296.3,227.4 1297.9,227.7 1299.5,228C1301.3,228.3 1303.1,230 1304.9,230C1306.9,230 1309,225.3 1311,224C1313.2,222.6 1315.4,221.5 1317.6,220.9C1322.4,219.5 1327.3,218 1332.1,218C1336.6,218 1341.2,218.9 1345.7,218.9C1347.4,218.9 1349.1,217.6 1350.8,216.3C1352.5,215 1354.2,211.8 1355.9,208.7C1358.2,204.5 1360.4,197.8 1362.7,191.6C1365,185.4 1367.2,178.5 1369.5,171.2C1371.8,163.9 1374,155.7 1376.3,147.4C1378.1,140.9 1379.8,135.3 1381.6,127C1382.9,120.9 1384.2,109.1 1385.5,104C1386.5,100.1 1387.5,96.2 1388.5,95C1389.5,93.7 1390.6,92.6 1391.6,92.6C1393.1,92.6 1394.5,95.8 1396,97C1397.4,98.1 1398.8,99.8 1400.2,99.8C1402.7,99.8 1405.3,95.5 1407.8,95.5C1411.5,95.5 1415.2,99.8 1418.9,99.8C1422.3,99.8 1425.7,98.9 1429.1,98.9C1435.6,98.9 1442.1,99.4 1448.6,99.8C1455.1,100.2 1461.7,100.8 1468.2,102.3C1469.9,102.7 1471.6,103.7 1473.3,104.9C1475.6,106.5 1477.8,109.9 1480.1,113.4C1482.9,117.7 1485.8,124.3 1488.6,130.4C1493.2,140.2 1497.7,152.2 1502.3,162.7C1505.1,169.1 1507.8,174.4 1510.6,181.5C1514.6,191.7 1518.6,205.9 1522.6,217.4C1525.1,224.5 1527.5,231.6 1530,238C1532.1,243.4 1534.1,246.4 1536.2,253.2C1537.4,257.2 1538.6,265.7 1539.8,270C1540.9,274.1 1542.1,277.9 1543.2,280C1544.3,282 1545.4,284.5 1546.5,284.5C1548,284.5 1549.5,281.8 1551,281.5C1552.3,281.2 1553.7,281 1555,281C1556.7,281 1558.3,284.5 1560,286.5C1561.7,288.5 1563.4,292.9 1565.1,293.2C1568.4,293.8 1571.7,293.5 1575,294C1577.7,294.4 1580.3,297.8 1583,298C1585,298.2 1587,298.3 1589,298.3C1590.7,298.3 1592.3,296.5 1594,296.5C1595.7,296.5 1597.4,297.8 1599.1,299.1C1601.9,301.2 1604.8,307.7 1607.6,312.7C1610.4,317.7 1613.3,324 1616.1,329.7C1619.5,336.5 1622.9,341.4 1626.3,350.2C1628,354.7 1629.8,361.1 1631.5,367.5C1632.9,372.6 1634.3,380.6 1635.7,384.5C1637.2,388.8 1638.8,394.3 1640.3,394.3C1642.2,394.3 1644,386.8 1645.9,382C1647.4,378.1 1649,370.8 1650.5,368C1652.1,365.1 1653.7,361.7 1655.3,361.7C1657,361.7 1658.8,365.6 1660.5,368C1662,370.1 1663.5,373.9 1665,375.5C1666.6,377.1 1668.1,379.1 1669.7,379.1C1671.3,379.1 1672.9,378.6 1674.5,378.5C1676,378.4 1677.6,378.2 1679.1,378.2C1681.4,378.2 1683.7,379.3 1686,380C1687.7,380.5 1689.3,380.9 1691,382C1693.3,383.5 1695.5,390.3 1697.8,395C1700.6,400.9 1703.5,408.1 1706.3,414.8C1709.1,421.5 1712,429.3 1714.8,435.2C1717.1,440 1719.5,442.8 1721.8,448C1723.2,451.1 1724.6,456.3 1726,459.5C1727.3,462.6 1728.7,466 1730,467.5C1731.3,469 1732.7,470 1734,470.5C1736,471.3 1738,471.3 1740,472C1743,473 1745.9,474.8 1748.9,477" stroke="#b24dff" stroke-width="2.8"/>
<path d="M1003,30.6V534.8M1016.9,30.6C1019.1,94 1021.2,149.4 1023.4,200C1024.2,217.9 1024.9,237.4 1025.7,250C1026.6,264.2 1027.4,272.9 1028.3,284C1029.4,298.5 1030.6,313.9 1031.7,326.6C1033.1,342.3 1034.5,357.8 1035.9,369.1C1037.6,382.9 1039.3,393.9 1041,403.1C1043.3,415.5 1045.6,425.6 1047.9,433.8C1050.2,441.9 1052.4,449.1 1054.7,454.2C1057.5,460.6 1060.4,466 1063.2,469.5C1066.6,473.7 1070,477.1 1073.4,478.9C1077.4,480.9 1081.3,482.7 1085.3,483.1C1089.8,483.6 1094.4,484 1098.9,484C1109.1,484 1119.3,482.8 1129.5,482.8C1136.9,482.8 1144.2,483.2 1151.6,483.6C1160.1,484.1 1168.7,485.5 1177.2,486.5C1185.7,487.5 1194.2,488.6 1202.7,489.6C1207.2,490.2 1211.8,490.9 1216.3,491.3C1217.7,491.4 1219.2,491.6 1220.6,491.6C1222.3,491.6 1224,489.2 1225.7,486.5C1227.1,484.3 1228.5,477.4 1229.9,471.2C1231.6,463.7 1233.3,452 1235,442.3C1237.3,429.4 1239.5,416.7 1241.8,403.1C1244.1,389.5 1246.3,375.7 1248.6,360.6C1250.1,350.4 1251.7,339.6 1253.2,328C1254.6,317.1 1256.1,305.1 1257.5,293C1258.5,284.6 1259.5,274.4 1260.5,267C1261.4,260.6 1262.2,254.6 1263.1,250C1264,245.2 1264.9,239.9 1265.8,238C1266.8,235.9 1267.8,233.8 1268.8,233.8C1270.6,233.8 1272.4,242.7 1274.2,246.1C1276.2,249.8 1278.2,255.5 1280.2,255.5C1282.2,255.5 1284.2,251.3 1286.2,247.8C1287.9,244.8 1289.6,237.3 1291.3,234.2C1292.7,231.6 1294.1,228.2 1295.5,228.2C1297,228.2 1298.5,230 1300,230.5C1301.6,231 1303.3,231.6 1304.9,231.6C1307.2,231.6 1309.4,226.4 1311.7,224.8C1313.7,223.4 1315.6,221.4 1317.6,221.4C1320.2,221.4 1322.7,221.9 1325.3,221.9C1328.1,221.9 1331,218.5 1333.8,218.5C1337.8,218.5 1341.7,218.9 1345.7,218.9C1347.4,218.9 1349.1,217.6 1350.8,216.3C1352.5,215 1354.2,211.8 1355.9,208.7C1358.2,204.5 1360.4,197.8 1362.7,191.6C1365,185.4 1367.2,178.5 1369.5,171.2C1371.8,163.9 1374,156.2 1376.3,147.4C1378,140.8 1379.7,135.1 1381.4,125.3C1382.5,118.8 1383.7,104.8 1384.8,98.1C1385.9,91.8 1386.9,85.9 1388,83C1389.1,80 1390.2,76.8 1391.3,76.8C1392.8,76.8 1394.4,83.6 1395.9,86.2C1397.6,89.1 1399.3,93.8 1401,93.8C1403.4,93.8 1405.9,90.4 1408.3,90.4C1411.8,90.4 1415.4,98.1 1418.9,98.1C1422.3,98.1 1425.7,94.3 1429.1,94.3C1432.2,94.3 1435.3,100.6 1438.4,100.6C1441.8,100.6 1445.2,98.1 1448.6,98.1C1453.4,98.1 1458.3,104 1463.1,104C1465.4,104 1467.6,104 1469.9,104C1471,104 1472.2,104.4 1473.3,104.9C1475.6,105.8 1477.8,109.9 1480.1,113.4C1482.9,117.7 1485.8,124.3 1488.6,130.4C1493.2,140.2 1497.7,152.2 1502.3,162.7C1505.1,169.1 1507.8,174.4 1510.6,181.5C1514.6,191.7 1518.6,205.9 1522.6,217.4C1525.1,224.5 1527.5,231.6 1530,238C1532.1,243.4 1534.1,245.9 1536.2,253.2C1537.3,257.2 1538.5,267.5 1539.6,271.9C1540.7,276.3 1541.9,279.7 1543,282.1C1544.2,284.7 1545.5,288 1546.7,288C1548,288 1549.3,284.7 1550.6,283.8C1552,282.9 1553.5,281.8 1554.9,281.8C1556.6,281.8 1558.3,285.6 1560,287.2C1561.7,288.8 1563.4,291.1 1565.1,291.5C1566.8,291.9 1568.5,292.3 1570.2,292.3C1571.6,292.3 1573.1,291.5 1574.5,291.5C1575.9,291.5 1577.3,295 1578.7,295.7C1580.4,296.6 1582.1,297.4 1583.8,297.4C1585.5,297.4 1587.2,296.1 1588.9,295.4C1590.3,294.8 1591.8,293.7 1593.2,293.7C1595.2,293.7 1597.1,295.6 1599.1,297.4C1601.9,300 1604.8,307.3 1607.6,312.7C1610.4,318.1 1613.3,324 1616.1,329.7C1619.5,336.5 1622.9,341.5 1626.3,350.2C1628,354.6 1629.8,360.9 1631.5,367.2C1632.9,372.3 1634.3,380.4 1635.7,384.2C1637.2,388.4 1638.8,393.5 1640.3,393.5C1642.2,393.5 1644,386.2 1645.9,380.8C1647.3,376.6 1648.8,367.2 1650.2,363.8C1651.9,359.8 1653.6,355.3 1655.3,355.3C1657.3,355.3 1659.2,360.9 1661.2,363.8C1663.2,366.8 1665.2,371.6 1667.2,373.1C1669.5,374.8 1671.7,375.9 1674,376.5C1675.7,376.9 1677.4,377.1 1679.1,377.4C1681.4,377.9 1683.6,378.2 1685.9,379.1C1687.6,379.8 1689.3,381.4 1691,383.3C1693.3,385.8 1695.5,391.5 1697.8,396.1C1700.6,401.8 1703.5,408.3 1706.3,414.8C1709.1,421.3 1712,429 1714.8,435.2C1717.1,440.1 1719.3,442.5 1721.6,448.8C1722.7,451.9 1723.9,459.5 1725,462.5C1726.1,465.5 1727.3,467.7 1728.4,469.3C1729.8,471.3 1731.3,474 1732.7,474C1734.1,474 1735.5,473 1736.9,473C1738.6,473 1740.4,474.3 1742.1,475.2C1744.4,476.3 1746.6,477.8 1748.9,479.5" stroke="#edb120" stroke-width="2.8"/>
</g>
<text transform="translate(1003,573.9) scale(0.84,1)" font-size="29.7" fill="#ff0000" text-anchor="middle" font-weight="bold" stroke="#ff0000" stroke-width="0.7" stroke-linejoin="round">0</text>
<text transform="translate(1158.4,573.9) scale(0.84,1)" font-size="29.7" fill="#ff0000" text-anchor="middle" font-weight="bold" stroke="#ff0000" stroke-width="0.7" stroke-linejoin="round">5</text>
<text transform="translate(1313.8,573.9) scale(0.84,1)" font-size="29.7" fill="#ff0000" text-anchor="middle" font-weight="bold" stroke="#ff0000" stroke-width="0.7" stroke-linejoin="round">10</text>
<text transform="translate(1469.1,573.9) scale(0.84,1)" font-size="29.7" fill="#ff0000" text-anchor="middle" font-weight="bold" stroke="#ff0000" stroke-width="0.7" stroke-linejoin="round">15</text>
<text transform="translate(1624.5,573.9) scale(0.84,1)" font-size="29.7" fill="#ff0000" text-anchor="middle" font-weight="bold" stroke="#ff0000" stroke-width="0.7" stroke-linejoin="round">20</text>
<text transform="translate(1748.8,573.9) scale(0.84,1)" font-size="29.7" fill="#ff0000" text-anchor="middle" font-weight="bold" stroke="#ff0000" stroke-width="0.7" stroke-linejoin="round">24</text>
<text transform="translate(995.4,546.3) scale(0.84,1)" font-size="29.7" fill="#ff0000" text-anchor="end" font-weight="bold" stroke="#ff0000" stroke-width="0.7" stroke-linejoin="round">1.2</text>
<text transform="translate(995.4,445.5) scale(0.84,1)" font-size="29.7" fill="#ff0000" text-anchor="end" font-weight="bold" stroke="#ff0000" stroke-width="0.7" stroke-linejoin="round">1.3</text>
<text transform="translate(995.4,344.6) scale(0.84,1)" font-size="29.7" fill="#ff0000" text-anchor="end" font-weight="bold" stroke="#ff0000" stroke-width="0.7" stroke-linejoin="round">1.4</text>
<text transform="translate(995.4,243.8) scale(0.84,1)" font-size="29.7" fill="#ff0000" text-anchor="end" font-weight="bold" stroke="#ff0000" stroke-width="0.7" stroke-linejoin="round">1.5</text>
<text transform="translate(995.4,142.9) scale(0.84,1)" font-size="29.7" fill="#ff0000" text-anchor="end" font-weight="bold" stroke="#ff0000" stroke-width="0.7" stroke-linejoin="round">1.6</text>
<text transform="translate(995.4,42.1) scale(0.84,1)" font-size="29.7" fill="#ff0000" text-anchor="end" font-weight="bold" stroke="#ff0000" stroke-width="0.7" stroke-linejoin="round">1.7</text>
<rect x="1540.4" y="49.3" width="185.2" height="153.2" fill="#fff" stroke="#2a2a2a" stroke-width="1.9"/>
<path d="M1549,71.8h88.9" stroke="#0000ff" stroke-width="4.2" fill="none"/>
<text transform="translate(1644.6,82.7) scale(0.88,1)" font-size="26.5" fill="#000" text-anchor="start" font-weight="bold" stroke="#000" stroke-width="0.7" stroke-linejoin="round">LQR</text>
<path d="M1549,107.8h88.9" stroke="#00ff00" stroke-width="2.7" fill="none"/>
<text transform="translate(1644.6,118.9) scale(0.88,1)" font-size="26.5" fill="#000" text-anchor="start" font-weight="bold" stroke="#000" stroke-width="0.7" stroke-linejoin="round">SMC</text>
<path d="M1549,144.3h88.9" stroke="#b24dff" stroke-width="2.7" fill="none"/>
<text transform="translate(1644.6,155.1) scale(0.88,1)" font-size="26.5" fill="#000" text-anchor="start" font-weight="bold" stroke="#000" stroke-width="0.7" stroke-linejoin="round">FOPID</text>
<path d="M1549,180.3h88.9" stroke="#edb120" stroke-width="2.7" fill="none"/>
<text transform="translate(1644.6,191.4) scale(0.88,1)" font-size="26.5" fill="#000" text-anchor="start" font-weight="bold" stroke="#000" stroke-width="0.7" stroke-linejoin="round">PID</text>
<text transform="translate(1374.3,19.6) scale(0.88,1)" font-size="27.5" fill="#111" text-anchor="middle" stroke="#111" stroke-width="0.25">(b)</text>
<text transform="translate(1376.2,582) scale(0.88,1)" font-size="31.5" fill="#303030" text-anchor="middle" font-weight="bold" stroke="#303030" stroke-width="0.7" stroke-linejoin="round">Time</text>
<text transform="translate(950.8,286.2) rotate(-90) scale(1,0.88)" font-size="32.4" fill="#303030" text-anchor="middle" font-weight="bold" stroke="#303030" stroke-width="0.7" stroke-linejoin="round">Qf [m<tspan font-size="23" dy="-13.2">3</tspan><tspan dy="13.2"> /h]</tspan></text>
<path d="M85.1,1135.2v-9.6M85.1,631.4v9.6M240.5,1135.2v-9.6M240.5,631.4v9.6M395.9,1135.2v-9.6M395.9,631.4v9.6M551.2,1135.2v-9.6M551.2,631.4v9.6M706.6,1135.2v-9.6M706.6,631.4v9.6M830.9,1135.2v-9.6M830.9,631.4v9.6M85.1,1135.2h8.7M830.9,1135.2h-8.7M85.1,1034.4h8.7M830.9,1034.4h-8.7M85.1,933.7h8.7M830.9,933.7h-8.7M85.1,832.9h8.7M830.9,832.9h-8.7M85.1,732.2h8.7M830.9,732.2h-8.7M85.1,631.4h8.7M830.9,631.4h-8.7" stroke="#2a2a2a" stroke-width="1.9" fill="none"/>
<rect x="85.1" y="631.4" width="745.8" height="503.8" fill="none" stroke="#2a2a2a" stroke-width="1.9"/>
<clipPath id="cc"><rect x="83.8" y="630.1" width="748.4" height="506.4"/></clipPath>
<g clip-path="url(#cc)" fill="none" stroke-linejoin="round" stroke-linecap="round">
<path d="M85.1,631.4V1135.2M126.3,631.4C128.4,669 130.5,713.4 132.6,760C133.2,773.3 133.8,792.5 134.4,802.5C135.6,821.9 136.7,832.2 137.9,845.1C139.3,860.6 140.7,876.4 142.1,887.6C144.1,903.7 146.1,917.1 148.1,926.7C150.4,937.6 152.6,945.9 154.9,952.3C157.2,958.7 159.4,964 161.7,967.6C164,971.2 166.2,974.3 168.5,976.1C170.8,977.9 173,979.5 175.3,980C177.6,980.5 179.8,980.9 182.1,980.9C186.6,980.9 191.2,979.7 195.7,979.2C201.4,978.6 207,977.5 212.7,977.5C217.2,977.5 221.8,978 226.3,978.6C231.4,979.3 236.5,981.7 241.6,983.8C247.3,986.1 253,989.2 258.7,992.3C264.4,995.4 270,999.1 275.7,1002.5C281.4,1005.9 287,1009.3 292.7,1012.7C296,1014.7 299.3,1018.6 302.6,1018.6C303.6,1018.6 304.5,1014.6 305.5,1013.5C306.9,1011.9 308.3,1011.3 309.7,1010.1C311.7,1008.4 313.7,1007.3 315.7,1005C317.7,1002.8 319.6,998.9 321.6,994.8C323.3,991.2 325,986 326.7,981.2C328.4,976.4 330.1,971.2 331.8,965.9C332.7,963.2 333.5,959.7 334.4,957.4C336.3,952.4 338.1,949.8 340,945C342.8,937.7 345.7,927.5 348.5,918.2C351.3,908.9 354.2,898.3 357,889.3C359.8,880.3 362.7,872 365.5,863.8C368.3,855.6 371.2,847.2 374,839.9C376.8,832.6 379.7,825.7 382.5,819.5C385.3,813.3 388.2,807.5 391,802.5C393.9,797.4 396.7,792.8 399.6,788.9C402.4,785 405.3,781.2 408.1,778.7C410.9,776.2 413.8,774.2 416.6,772.7C420.6,770.6 424.5,769.4 428.5,767.6C433,765.5 437.6,763.5 442.1,760.8C444.9,759.1 447.8,757.1 450.6,754.9C453.4,752.7 456.3,749.7 459.1,747.2C461.9,744.7 464.8,741.8 467.6,739.6C470.4,737.4 473.3,735.3 476.1,733.6C478.9,731.9 481.8,730.2 484.6,729.3C487.4,728.4 490.3,727.7 493.1,727.3C495.9,726.9 498.8,726.3 501.6,726.3C504.4,726.3 507.3,726.5 510.1,726.8C513.5,727.1 517,728.3 520.4,729.3C523.8,730.3 527.2,731.4 530.6,732.7C534,734 537.4,735.3 540.8,737C544.2,738.7 547.6,740.7 551,743C554.4,745.3 557.8,748.1 561.2,751.5C564,754.3 566.9,758 569.7,761.7C572.5,765.4 575.4,769.3 578.2,773.6C581,777.9 583.9,782.7 586.7,788C589.5,793.3 592.4,799.5 595.2,805.9C598,812.3 600.9,819.4 603.7,826.3C606.5,833.2 609.4,840.8 612.2,847.6C615.1,854.4 617.9,860.8 620.8,867.2C623.6,873.5 626.5,880.2 629.3,885.6C631.5,889.8 633.7,893.1 635.9,897C638.7,902 641.6,908 644.4,912.3C647.8,917.6 651.3,922 654.7,925.9C658.1,929.8 661.5,933.4 664.9,936.1C668.3,938.8 671.7,941 675.1,942.9C678.5,944.8 681.9,946.2 685.3,948C688.7,949.8 692.1,951.8 695.5,954C700,957 704.6,961.2 709.1,964.2C712.5,966.4 715.9,968.6 719.3,970.2C722.7,971.8 726.1,973.4 729.5,974.4C732.9,975.4 736.3,976.6 739.7,976.6C743.1,976.6 746.5,976.4 749.9,976.1C753.3,975.8 756.8,975 760.2,974.4C763.6,973.8 767,972.7 770.4,972.7C773.8,972.7 777.2,973.5 780.6,974.4C783.4,975.1 786.3,976.9 789.1,978.7C792.5,980.8 795.9,984.4 799.3,987.2C802.7,990 806.1,993 809.5,995.7C812.9,998.4 816.3,1000.9 819.7,1003.3C823.4,1006 827.1,1008.5 830.8,1011" stroke="#0000ff" stroke-width="4.1"/>
<path d="M126.3,631.4C128.4,669 130.5,713.4 132.6,760C133.2,773.3 133.8,792.5 134.4,802.5C135.6,821.9 136.7,832.2 137.9,845.1C139.3,860.6 140.7,876.4 142.1,887.6C144.1,903.7 146.1,917.1 148.1,926.7C150.4,937.6 152.6,945.9 154.9,952.3C157.2,958.7 159.4,964 161.7,967.6C164,971.2 166.2,974.3 168.5,976.1C170.8,977.9 173,979.5 175.3,980C177.6,980.5 179.8,980.9 182.1,980.9C186.6,980.9 191.2,979.7 195.7,979.2C201.4,978.6 207,977.5 212.7,977.5C217.2,977.5 221.8,978 226.3,978.6C231.4,979.3 236.5,981.7 241.6,983.8C247.3,986.1 253,989.2 258.7,992.3C264.4,995.4 270,999.1 275.7,1002.5C281.4,1005.9 287,1009.3 292.7,1012.7C296,1014.7 299.3,1018.6 302.6,1018.6C303.6,1018.6 304.5,1014.6 305.5,1013.5C306.9,1011.9 308.3,1011.3 309.7,1010.1C311.7,1008.4 313.7,1007.3 315.7,1005C317.7,1002.8 319.6,998.9 321.6,994.8C323.3,991.2 325,986 326.7,981.2C328.4,976.4 330.1,971.3 331.8,965.9L334.4,955.2L336.1,949.8L337.8,945L340,939.4L341.7,935.4L346.8,919.5L350.2,908.4L353.6,896.6L358.7,879.3L363,865.8L365.5,858.1L368.9,848.4L371.5,842L373.2,838.6L375.7,832.4L380,822.1L382.5,816.9L384.6,812.1L388.5,803.6L391,799.2L393.1,796.2L395.3,793L399.6,786.9L403.8,781.6L408.1,777.1L412.3,774L415.7,771.9L421.7,769.4L426.8,767.7L431.9,765.6L442.1,760.4L450.6,754L457.4,746.9L460,743.9L462.5,741.1L465.9,738L470.2,735.5L471.9,735.2L474.4,733.2L477.8,730.2L481.2,727.9L486,725.6L488.9,724.9L491.4,724.5L494,724.9L497.4,724L500.8,723.4L504.2,723.1L508.5,724.1L511.9,724.5L516.1,725.6L519.5,726.8L524.6,728.5L528.9,729.9L532.3,731.4L535.7,733.3L539.9,735.2L544.2,737.6L551,742L556.1,746.4L561.2,751.3L569.2,761.1L577.7,773L586.2,787.3L594.7,805.1L603.2,825.5L611.7,846.9L615.7,857L618.1,863.8L620.6,869.7L621.8,871.9L624,876.8L626.1,880.8L630,888L633.4,894.6L635.9,900.2L637.6,903.6L641,909.8L644.4,915.4L648.7,921.4L651.3,923.9L653.3,926.4L656,930.3L658.9,933.3L661.1,934.5L664,937.2L668.6,940.6L670.8,941.5L673,942.8L676.8,945.2L680.2,946.7L688.7,950.7L698.9,957.5L708.3,965.2L711.7,967.2L715.4,969L721,971.2L726.1,973L730.4,974.1L734.6,975.2L738.4,975.9L741.4,976.2L743.1,975.5L745.7,974.3L749.9,974.1L753.3,973.5L757.6,972.7L761.9,972L765.3,971.5L769,970.7L772.9,970.9L780.6,972.2L787.4,975.5L794.2,980.5L801,987L805.2,991.7L806.9,993.3L808.6,994.4L810.9,996.1L812.9,997.5L816.3,999.8L818.9,1002.5L822.3,1005.5L824.8,1008.1L827.9,1010.5L830.8,1012.3" stroke="#00ff00" stroke-width="2.8"/>
<path d="M126.3,631.4C128.4,669 130.5,713.4 132.6,760C133.2,773.3 133.8,792.5 134.4,802.5C135.6,821.9 136.7,832.2 137.9,845.1C139.3,860.6 140.7,876.4 142.1,887.6C144.1,903.7 146.1,917.1 148.1,926.7C150.4,937.6 152.6,945.9 154.9,952.3C157.2,958.7 159.4,964 161.7,967.6C164,971.2 166.2,974.3 168.5,976.1C170.8,977.9 173,979.5 175.3,980C177.6,980.5 179.8,980.9 182.1,980.9C186.6,980.9 191.2,979.7 195.7,979.2C201.4,978.6 207,977.5 212.7,977.5C217.2,977.5 221.8,978 226.3,978.6C231.4,979.3 236.5,981.7 241.6,983.8C247.3,986.1 253,989.2 258.7,992.3C264.4,995.4 270,999.1 275.7,1002.5C281.4,1005.9 287,1009.3 292.7,1012.7C296,1014.7 299.3,1018.6 302.6,1018.6C303.6,1018.6 304.5,1014.6 305.5,1013.5C306.9,1011.9 308.3,1011.3 309.7,1010.1C311.7,1008.4 313.7,1007.3 315.7,1005C317.7,1002.8 319.6,998.9 321.6,994.8C323.3,991.2 325,986 326.7,981.2C328.4,976.4 330.1,971.3 331.8,965.9L334.4,957.4L336.1,943L337.8,934.9L340,928.9L341.7,924.3L346.8,915.8L350.2,910.5L353.6,892.7L358.7,869.9L363,855.3L365.5,849.5L368.9,844.1L371.5,833.6L373.2,829.8L375.7,830.9L380,824.8L382.5,812.4L384.6,803.9L388.5,799.8L391,794.2L393.1,791.5L395.3,790.8L399.6,784.8L403.8,781.3L408.1,773.3L412.3,770.6L415.7,771.1L421.7,768.4L426.8,767.3L431.9,764.2L442.1,760.2L450.6,754.9L457.4,747.7L460,739.3L462.5,731.6L465.9,732.8L470.2,731.8L471.9,735L474.4,738.1L477.8,731.5L481.2,719L486,711.6L488.9,721.8L491.4,726.4L494,725.7L497.4,717.2L500.8,718.3L504.2,716.3L508.5,722L511.9,721.5L516.1,726.5L519.5,721.5L524.6,721.6L528.9,729.6L532.3,729.3L535.7,732.7L539.9,731.5L544.2,735.7L551,740.6L556.1,745.9L561.2,751.5L569.2,761.5L577.7,773.4L586.2,787.7L594.7,805.6L603.2,825.9L611.7,847.2L615.7,857.6L618.1,863L620.6,876L621.8,886.4L624,878.3L626.1,876.1L630,888L633.4,894.5L635.9,905.3L637.6,912.8L641,919.5L644.4,917.1L648.7,918.4L651.3,927.1L653.3,934.9L656,930.5L658.9,936.8L661.1,942L664,938.3L668.6,938.1L670.8,943.9L673,947.1L676.8,946.2L680.2,948.4L688.7,951.6L698.9,957.7L708.3,965.2L711.7,971.3L715.4,976.1L721,970.4L726.1,968.7L730.4,968.2L734.6,976.7L738.4,981.3L741.4,974.5L743.1,971.5L745.7,973.8L749.9,969L753.3,968.5L757.6,973.4L761.9,966.8L765.3,971.1L769,966.8L772.9,968.6L780.6,970L787.4,972.4L794.2,976.9L801,983.4L805.2,987.5L806.9,995.1L808.6,1003L810.9,993.6L812.9,989.3L816.3,994.9L818.9,1003.8L822.3,1010.4L824.8,1012.7L827.9,1007.4L830.8,1014.6" stroke="#b24dff" stroke-width="2.8"/>
<path d="M85.1,631.4V1135.2M126.3,631.4C128.4,669 130.5,713.4 132.6,760C133.2,773.3 133.8,792.5 134.4,802.5C135.6,821.9 136.7,832.2 137.9,845.1C139.3,860.6 140.7,876.4 142.1,887.6C144.1,903.7 146.1,917.1 148.1,926.7C150.4,937.6 152.6,945.9 154.9,952.3C157.2,958.7 159.4,964 161.7,967.6C164,971.2 166.2,974.3 168.5,976.1C170.8,977.9 173,979.5 175.3,980C177.6,980.5 179.8,980.9 182.1,980.9C186.6,980.9 191.2,979.7 195.7,979.2C201.4,978.6 207,977.5 212.7,977.5C217.2,977.5 221.8,978 226.3,978.6C231.4,979.3 236.5,981.7 241.6,983.8C247.3,986.1 253,989.2 258.7,992.3C264.4,995.4 270,999.1 275.7,1002.5C281.4,1005.9 287,1009.3 292.7,1012.7C296,1014.7 299.3,1018.6 302.6,1018.6C303.6,1018.6 304.5,1014.6 305.5,1013.5C306.9,1011.9 308.3,1011.3 309.7,1010.1C311.7,1008.4 313.7,1007.3 315.7,1005C317.7,1002.8 319.6,998.9 321.6,994.8C323.3,991.2 325,986 326.7,981.2C328.4,976.4 330.1,971.3 331.8,965.9L334.4,957.4L336.1,938.6L337.8,928.4L340,922L341.7,917.4L346.8,912.3L350.2,909.7L353.6,889.3L358.7,863.8L363,848.5L365.5,843.4L368.9,839.9L371.5,828L373.2,824.6L375.7,828.9L380,824.6L382.5,809.3L384.6,799.1L388.5,796.6L391,790.6L393.1,788.4L395.3,788.9L399.6,783L403.8,780.4L408.1,771L412.3,768.5L415.7,770.2L421.7,767.6L426.8,766.8L431.9,763.4L442.1,760L450.6,754.9L457.4,747.2L460,736.2L462.5,726.3L465.9,729.3L470.2,729.3L471.9,734.4L474.4,739.6L477.8,731L481.2,714L486,704.2L488.9,719.1L491.4,725.9L494,725.1L497.4,713.2L500.8,714.9L504.2,712L508.5,720L511.9,719.1L516.1,725.9L519.5,718.3L524.6,717.8L528.9,728.5L532.3,727.6L535.7,731.9L539.9,729.3L544.2,734.4L551,739.6L556.1,745.5L561.2,751.5L569.2,761.7L577.7,773.6L586.2,788L594.7,805.9L603.2,826.3L611.7,847.6L615.7,858.4L618.1,863.8L620.6,880L621.8,893.6L624,880L626.1,874.9L630,888.5L633.4,895.3L635.9,908.9L637.6,918.3L641,925.1L644.4,919.1L648.7,918.3L651.3,929.3L653.3,939.5L656,931.9L658.9,939.5L661.1,946L664,939.5L668.6,937.8L670.8,945.5L673,949.4L676.8,947.2L680.2,949.7L688.7,952.3L698.9,958.2L708.3,965.9L711.7,973.6L715.4,979.5L721,970.2L726.1,966.8L730.4,965.4L734.6,977L738.4,983.4L741.4,973.6L743.1,969.3L745.7,972.7L749.9,965.9L753.3,965.4L757.6,972.7L761.9,963.7L765.3,970.2L769,964.2L772.9,966.8L780.6,968.1L787.4,970.2L794.2,974.4L801,981.2L805.2,985.5L806.9,995.7L808.6,1006.4L810.9,992.3L812.9,985.5L816.3,992.3L818.9,1004.2L822.3,1012.7L824.8,1015.2L827.9,1006.7L830.8,1016.1" stroke="#edb120" stroke-width="2.8"/>
</g>
<text transform="translate(85.1,1174.4) scale(0.84,1)" font-size="29.7" fill="#ff0000" text-anchor="middle" font-weight="bold" stroke="#ff0000" stroke-width="0.7" stroke-linejoin="round">0</text>
<text transform="translate(240.5,1174.4) scale(0.84,1)" font-size="29.7" fill="#ff0000" text-anchor="middle" font-weight="bold" stroke="#ff0000" stroke-width="0.7" stroke-linejoin="round">5</text>
<text transform="translate(395.9,1174.4) scale(0.84,1)" font-size="29.7" fill="#ff0000" text-anchor="middle" font-weight="bold" stroke="#ff0000" stroke-width="0.7" stroke-linejoin="round">10</text>
<text transform="translate(551.2,1174.4) scale(0.84,1)" font-size="29.7" fill="#ff0000" text-anchor="middle" font-weight="bold" stroke="#ff0000" stroke-width="0.7" stroke-linejoin="round">15</text>
<text transform="translate(706.6,1174.4) scale(0.84,1)" font-size="29.7" fill="#ff0000" text-anchor="middle" font-weight="bold" stroke="#ff0000" stroke-width="0.7" stroke-linejoin="round">20</text>
<text transform="translate(830.9,1174.4) scale(0.84,1)" font-size="29.7" fill="#ff0000" text-anchor="middle" font-weight="bold" stroke="#ff0000" stroke-width="0.7" stroke-linejoin="round">24</text>
<text transform="translate(77.5,1146.7) scale(0.84,1)" font-size="29.7" fill="#ff0000" text-anchor="end" font-weight="bold" stroke="#ff0000" stroke-width="0.7" stroke-linejoin="round">1.2</text>
<text transform="translate(77.5,1045.9) scale(0.84,1)" font-size="29.7" fill="#ff0000" text-anchor="end" font-weight="bold" stroke="#ff0000" stroke-width="0.7" stroke-linejoin="round">1.22</text>
<text transform="translate(77.5,945.2) scale(0.84,1)" font-size="29.7" fill="#ff0000" text-anchor="end" font-weight="bold" stroke="#ff0000" stroke-width="0.7" stroke-linejoin="round">1.24</text>
<text transform="translate(77.5,844.4) scale(0.84,1)" font-size="29.7" fill="#ff0000" text-anchor="end" font-weight="bold" stroke="#ff0000" stroke-width="0.7" stroke-linejoin="round">1.26</text>
<text transform="translate(77.5,743.7) scale(0.84,1)" font-size="29.7" fill="#ff0000" text-anchor="end" font-weight="bold" stroke="#ff0000" stroke-width="0.7" stroke-linejoin="round">1.28</text>
<text transform="translate(77.5,642.9) scale(0.84,1)" font-size="29.7" fill="#ff0000" text-anchor="end" font-weight="bold" stroke="#ff0000" stroke-width="0.7" stroke-linejoin="round">1.3</text>
<rect x="621.4" y="648.1" width="185.2" height="153.2" fill="#fff" stroke="#2a2a2a" stroke-width="1.9"/>
<path d="M630,670.6h88.9" stroke="#0000ff" stroke-width="4.2" fill="none"/>
<text transform="translate(725.6,681.5) scale(0.88,1)" font-size="26.5" fill="#000" text-anchor="start" font-weight="bold" stroke="#000" stroke-width="0.7" stroke-linejoin="round">LQR</text>
<path d="M630,706.6h88.9" stroke="#00ff00" stroke-width="2.7" fill="none"/>
<text transform="translate(725.6,717.7) scale(0.88,1)" font-size="26.5" fill="#000" text-anchor="start" font-weight="bold" stroke="#000" stroke-width="0.7" stroke-linejoin="round">SMC</text>
<path d="M630,743.1h88.9" stroke="#b24dff" stroke-width="2.7" fill="none"/>
<text transform="translate(725.6,753.9) scale(0.88,1)" font-size="26.5" fill="#000" text-anchor="start" font-weight="bold" stroke="#000" stroke-width="0.7" stroke-linejoin="round">FOPID</text>
<path d="M630,779.1h88.9" stroke="#edb120" stroke-width="2.7" fill="none"/>
<text transform="translate(725.6,790.2) scale(0.88,1)" font-size="26.5" fill="#000" text-anchor="start" font-weight="bold" stroke="#000" stroke-width="0.7" stroke-linejoin="round">PID</text>
<text transform="translate(457.5,620.4) scale(0.88,1)" font-size="27.5" fill="#111" text-anchor="middle" stroke="#111" stroke-width="0.25">(c)</text>
<text transform="translate(467.3,1192.2) scale(0.88,1)" font-size="31.5" fill="#303030" text-anchor="middle" font-weight="bold" stroke="#303030" stroke-width="0.7" stroke-linejoin="round">Time</text>
<text transform="translate(28.2,849.5) rotate(-90) scale(1,0.88)" font-size="31.8" fill="#303030" text-anchor="middle" font-weight="bold" stroke="#303030" stroke-width="0.7" stroke-linejoin="round">Qb [m<tspan font-size="23" dy="-13.2">3</tspan><tspan dy="13.2"> /h]</tspan></text>
<path d="M1003.9,1131.6v-9.6M1003.9,627.2v9.6M1159.3,1131.6v-9.6M1159.3,627.2v9.6M1314.8,1131.6v-9.6M1314.8,627.2v9.6M1470.2,1131.6v-9.6M1470.2,627.2v9.6M1625.7,1131.6v-9.6M1625.7,627.2v9.6M1750,1131.6v-9.6M1750,627.2v9.6M1003.9,1131.6h8.7M1750,1131.6h-8.7M1003.9,1030.7h8.7M1750,1030.7h-8.7M1003.9,929.8h8.7M1750,929.8h-8.7M1003.9,829h8.7M1750,829h-8.7M1003.9,728.1h8.7M1750,728.1h-8.7M1003.9,627.2h8.7M1750,627.2h-8.7" stroke="#2a2a2a" stroke-width="1.9" fill="none"/>
<rect x="1003.9" y="627.2" width="746.1" height="504.4" fill="none" stroke="#2a2a2a" stroke-width="1.9"/>
<clipPath id="cd"><rect x="1002.6" y="625.9" width="748.7" height="507"/></clipPath>
<g clip-path="url(#cd)" fill="none" stroke-linejoin="round" stroke-linecap="round">
<path d="M1003.9,1131.6L1005.6,1125.5L1007.2,1131.3L1011.6,1131.6L1012.2,958.7L1012.5,1131.6L1014.3,1131.6L1014.3,1043.2L1014.3,1043.2C1014.9,1046.8 1015.4,1050.3 1016,1053.4C1016.9,1058.5 1017.9,1063.6 1018.8,1067.1C1020.3,1072.9 1021.9,1077.5 1023.4,1080.7C1025.3,1084.6 1027.1,1087.8 1029,1089.7C1031.3,1092 1033.5,1093.7 1035.8,1094.8C1038.1,1095.9 1040.3,1096.6 1042.6,1097.1C1045.6,1097.8 1048.7,1098.3 1051.7,1098.5C1057.8,1098.8 1063.9,1099 1070,1099C1080,1099 1090,1099 1100,1099C1138.7,1099 1177.3,1099 1216,1099C1218.3,1099 1220.6,1099 1222.9,1099C1224,1099 1225.2,1096.2 1226.3,1093.4C1227.4,1090.6 1228.6,1084.2 1229.7,1076.5C1230.5,1070.8 1231.4,1059.5 1232.2,1051.1C1233.3,1039.7 1234.5,1028.6 1235.6,1017.4C1237.3,1000.5 1239,982.9 1240.7,966.7C1242.4,950.8 1244,934.9 1245.7,921.1C1247.4,907 1249.1,893.7 1250.8,882.2C1252,874.1 1253.2,867.1 1254.4,860C1255.6,853.1 1256.7,845.7 1257.9,840C1258.7,835.9 1259.6,831.8 1260.4,829.1C1261.5,825.4 1262.7,822.2 1263.8,820.6C1265.2,818.5 1266.7,817.3 1268.1,816.3C1270.4,814.8 1272.6,813.5 1274.9,812.9C1278.3,812 1281.7,811.2 1285.1,811.2C1290.8,811.2 1296.4,811.2 1302.1,811.2C1307.8,811.2 1313.4,812.1 1319.1,812.1C1328.7,812.1 1338.4,812 1348,811.7C1349.7,811.6 1351.4,809.3 1353.1,807C1354.8,804.7 1356.5,798.4 1358.2,793.3C1359.9,788.2 1361.6,781.9 1363.3,776.3C1365.6,768.8 1367.9,761.6 1370.2,754.2C1372.5,746.9 1374.7,739.6 1377,732.1C1378.7,726.5 1380.4,719.3 1382.1,715.1C1383.2,712.3 1384.4,710.1 1385.5,708.3C1386.6,706.5 1387.8,704.8 1388.9,704C1390.6,702.8 1392.3,702 1394,701.5C1397.4,700.5 1400.8,699.6 1404.2,699.4C1409.9,699.1 1415.5,699 1421.2,698.9C1432.5,698.7 1443.9,698.4 1455.2,698.4C1461.4,698.4 1467.7,698.4 1473.9,698.4C1475.6,698.4 1477.3,700 1479,701.5C1480.7,703 1482.5,706.7 1484.2,710C1485.9,713.3 1487.6,718 1489.3,721.9C1492.9,730 1496.4,737.4 1500,745.7C1501.8,750 1503.7,754.6 1505.5,759.1C1511.2,773.1 1516.9,787.3 1522.6,801.7C1527.7,814.6 1532.8,831.5 1537.9,840.8C1539.6,843.9 1541.3,847.2 1543,848.5C1545.3,850.2 1547.5,851.7 1549.8,851.9C1554.9,852.4 1560,852.7 1565.1,852.7C1575.9,852.7 1586.6,852.7 1597.4,852.7C1599.1,852.7 1600.8,857.8 1602.5,861.2C1604.8,865.7 1607,872.2 1609.3,878.2C1611.6,884.2 1613.8,890.7 1616.1,897C1619,904.9 1621.8,912.7 1624.7,920.8C1626.7,926.4 1628.6,933.2 1630.6,937.8C1632,941.1 1633.5,944.4 1634.9,946.3C1636.6,948.6 1638.3,950.6 1640,951.4C1643.4,953.1 1646.8,954.1 1650.2,954.5C1655.9,955.2 1661.5,955.7 1667.2,955.7C1672.9,955.7 1678.5,955.7 1684.2,955.7C1686.5,955.7 1688.7,956.9 1691,958.2C1693,959.4 1695,962.7 1697,966.7C1698.4,969.5 1699.8,975.9 1701.2,980.3C1703.5,987.4 1705.7,993.8 1708,1000.8C1710,1007 1712,1013.3 1714,1020C1716,1026.7 1718,1034 1720,1041C1722.1,1048.5 1724.3,1058.2 1726.4,1063.5C1727.5,1066.3 1728.7,1068.7 1729.8,1070.3C1731.3,1072.4 1732.8,1074 1734.3,1074.9C1736.2,1076 1738.1,1076.7 1740,1077.1C1743.3,1077.7 1746.7,1078.3 1750,1078.3" stroke="#0000ff" stroke-width="4.1"/>
<path d="M1003.9,1131.6L1005.8,1127.2L1007.5,1131.4L1011.3,1131.6L1012,992.8L1012.7,1131.6L1027.9,1131.6L1027.9,1131.6C1029,1127.8 1030.2,1124.3 1031.3,1121.5C1032.8,1117.9 1034.3,1114.7 1035.8,1112.4C1037.3,1110.1 1038.9,1108.3 1040.4,1106.8C1042.3,1105 1044.1,1103 1046,1102.2C1048.7,1101.1 1051.3,1100.3 1054,1100C1058.9,1099.5 1063.8,1099.3 1068.7,1099.2C1079.1,1099.1 1089.6,1099 1100,1099C1138.7,1099 1177.3,1099 1216,1099C1218.3,1099 1220.6,1099 1222.9,1099C1224,1099 1225.2,1096.2 1226.3,1093.4C1227.4,1090.6 1228.6,1084.2 1229.7,1076.5C1230.5,1070.8 1231.4,1059.5 1232.2,1051.1C1233.3,1039.7 1234.5,1028.6 1235.6,1017.4C1237.3,1000.5 1239,982.9 1240.7,966.7C1242.4,950.8 1244,934.9 1245.7,921.1C1247.4,907 1249.1,893.7 1250.8,882.2C1252,874.1 1253.2,867 1254.4,860C1255.6,853 1256.8,846.6 1258,840C1259.3,832.6 1260.7,823.6 1262,818C1263.2,813.1 1264.3,808.1 1265.5,806C1266.6,804 1267.8,801.9 1268.9,801.9C1270.3,801.9 1271.6,803.5 1273,805C1274.7,806.8 1276.3,812.9 1278,815C1279.7,817.1 1281.3,819.7 1283,819.7C1284.7,819.7 1286.3,817.5 1288,816C1289.6,814.6 1291.1,811.8 1292.7,810.5C1294.1,809.3 1295.6,807.8 1297,807.8C1299,807.8 1301,810.4 1303,811C1305.3,811.7 1307.7,812.5 1310,812.5C1313,812.5 1316.1,812.2 1319.1,812.1C1328.7,811.9 1338.4,812 1348,811.7C1349.7,811.6 1351.4,809.3 1353.1,807C1354.8,804.7 1356.5,798.4 1358.2,793.3C1359.9,788.2 1361.6,781.9 1363.3,776.3C1365.6,768.8 1367.9,761.6 1370.2,754.2C1372.5,746.9 1374.7,739.8 1377,732.1C1378.7,726.3 1380.4,719.6 1382.1,714C1383.2,710.3 1384.4,706.4 1385.5,703.5C1386.7,700.5 1387.8,697.3 1389,696C1390.4,694.5 1391.7,693 1393.1,693C1394.6,693 1396,695.4 1397.5,696.5C1399.7,698.2 1402,701.5 1404.2,701.5C1406.5,701.5 1408.7,698.1 1411,698.1C1414.4,698.1 1417.8,698.9 1421.2,698.9C1432.5,698.9 1443.9,698.4 1455.2,698.4C1461.4,698.4 1467.7,698.4 1473.9,698.4C1475.6,698.4 1477.3,700 1479,701.5C1480.7,703 1482.5,706.7 1484.2,710C1485.9,713.3 1487.6,718 1489.3,721.9C1492.9,730 1496.4,737.4 1500,745.7C1501.8,750 1503.7,754.6 1505.5,759.1C1511.2,773.1 1516.9,787.3 1522.6,801.7C1527.7,814.6 1532.8,826.9 1537.9,840.8C1539.1,844.1 1540.3,848.4 1541.5,851C1543.1,854.6 1544.8,859.5 1546.4,859.5C1548.1,859.5 1549.8,855.4 1551.5,854C1553.5,852.4 1555.4,850.2 1557.4,850.2C1560,850.2 1562.5,854.4 1565.1,854.4C1568.4,854.4 1571.7,854 1575,854C1578.2,854 1581.5,858.2 1584.7,858.2C1587.1,858.2 1589.6,855.1 1592,854.5C1593.8,854 1595.6,853.5 1597.4,853.5C1599.1,853.5 1600.8,858 1602.5,861.2C1604.8,865.4 1607,872.2 1609.3,878.2C1611.6,884.2 1613.8,890.7 1616.1,897C1619,904.9 1621.8,912.7 1624.7,920.8C1626.7,926.4 1628.6,930.9 1630.6,937.8C1632.1,942.9 1633.5,952.1 1635,957C1637.1,964 1639.2,973.5 1641.3,973.5C1643.2,973.5 1645.1,967.9 1647,964C1648.7,960.6 1650.3,953.5 1652,951C1653.5,948.7 1655.1,946 1656.6,946C1658.4,946 1660.2,948.5 1662,950C1664.3,951.9 1666.6,956.5 1668.9,956.5C1671.3,956.5 1673.6,955.7 1676,955.7C1678.7,955.7 1681.5,955.7 1684.2,955.7C1686.5,955.7 1688.7,956.9 1691,958.2C1693,959.4 1695,962.7 1697,966.7C1698.4,969.5 1699.8,975.9 1701.2,980.3C1703.5,987.4 1705.7,993.8 1708,1000.8C1710,1007 1712,1013.3 1714,1020C1716,1026.7 1718,1034 1720,1041C1722.1,1048.5 1724.3,1055.8 1726.4,1063.5C1727.4,1067.2 1728.5,1071.8 1729.5,1075C1730.7,1078.8 1732,1084.5 1733.2,1084.5C1734.5,1084.5 1735.7,1079.8 1737,1079C1738.2,1078.2 1739.3,1077.5 1740.5,1077.5C1743.7,1077.5 1746.8,1077.5 1750,1078.8" stroke="#00ff00" stroke-width="2.8"/>
<path d="M1003.9,1131.6L1005.8,1127.2L1007.5,1131.4L1011.3,1131.6L1012,992.8L1012.7,1131.6L1027.9,1131.6L1027.9,1131.6C1029,1127.8 1030.2,1124.3 1031.3,1121.5C1032.8,1117.9 1034.3,1114.7 1035.8,1112.4C1037.3,1110.1 1038.9,1108.3 1040.4,1106.8C1042.3,1105 1044.1,1103 1046,1102.2C1048.7,1101.1 1051.3,1100.3 1054,1100C1058.9,1099.5 1063.8,1099.3 1068.7,1099.2C1079.1,1099.1 1089.6,1099 1100,1099C1138.7,1099 1177.3,1099 1216,1099C1218.3,1099 1220.6,1099 1222.9,1099C1224,1099 1225.2,1096.2 1226.3,1093.4C1227.4,1090.6 1228.6,1084.2 1229.7,1076.5C1230.5,1070.8 1231.4,1059.5 1232.2,1051.1C1233.3,1039.7 1234.5,1028.6 1235.6,1017.4C1237.3,1000.5 1239,982.9 1240.7,966.7C1242.4,950.8 1244,934.9 1245.7,921.1C1247.4,907 1249.1,893.7 1250.8,882.2C1252,874.1 1253.2,867.5 1254.4,860C1255.6,852.5 1256.8,845.5 1258,837C1259.3,827.5 1260.7,814.4 1262,805C1263.2,796.8 1264.3,787.2 1265.5,783C1266.4,779.9 1267.2,776.3 1268.1,776.3C1269.1,776.3 1270,780.2 1271,783C1272.3,786.9 1273.7,795.1 1275,800C1276.3,804.9 1277.7,810.6 1279,813C1280.3,815.4 1281.7,818 1283,818C1284.7,818 1286.3,814.5 1288,812C1289.6,809.7 1291.1,805.2 1292.7,803C1294,801.1 1295.3,798.5 1296.6,798.5C1298.1,798.5 1299.7,807.3 1301.2,810C1302.9,813 1304.6,817 1306.3,817C1308,817 1309.8,812.4 1311.5,811C1313.2,809.6 1314.9,807.8 1316.6,807.8C1318.4,807.8 1320.2,809.9 1322,811C1323.9,812.2 1325.7,814.6 1327.6,814.6C1329.9,814.6 1332.1,808.7 1334.4,808.7C1336.6,808.7 1338.8,810.1 1341,810.5C1343.3,810.9 1345.7,811.5 1348,811.5C1349.7,811.5 1351.4,809.3 1353.1,807C1354.8,804.7 1356.5,798.4 1358.2,793.3C1359.9,788.2 1361.6,781.9 1363.3,776.3C1365.6,768.8 1367.9,761.6 1370.2,754.2C1372.5,746.9 1374.7,740.1 1377,732.1C1378.7,726.2 1380.3,720.4 1382,713C1383.2,707.8 1384.3,700.9 1385.5,695C1386.5,689.9 1387.5,684.4 1388.5,680C1389.2,677.1 1389.8,673.1 1390.5,672C1391.1,671 1391.7,670 1392.3,670C1393,670 1393.8,672.1 1394.5,674C1395.3,676.1 1396.2,681.7 1397,685C1398,689 1399,694.2 1400,696C1401.1,697.9 1402.2,699.8 1403.3,699.8C1404.4,699.8 1405.4,696.3 1406.5,695C1407.7,693.5 1408.9,691.3 1410.1,691.3C1411.6,691.3 1413,695.9 1414.5,697C1416.2,698.2 1417.8,699.5 1419.5,699.5C1423,699.5 1426.5,698 1430,698C1438.4,698 1446.8,698.4 1455.2,698.4C1461.4,698.4 1467.7,698.4 1473.9,698.4C1475.6,698.4 1477.3,700 1479,701.5C1480.7,703 1482.5,706.7 1484.2,710C1485.9,713.3 1487.6,718 1489.3,721.9C1492.9,730 1496.4,737.4 1500,745.7C1501.8,750 1503.7,754.6 1505.5,759.1C1511.2,773.1 1516.9,787.3 1522.6,801.7C1527.7,814.6 1532.8,822 1537.9,841C1539,845.2 1540.2,854.3 1541.3,859C1542.9,865.5 1544.4,874.8 1546,874.8C1547.8,874.8 1549.7,861.2 1551.5,857C1553.6,852.2 1555.7,846 1557.8,846C1559.1,846 1560.4,851.3 1561.7,854C1563.1,856.9 1564.5,862.6 1565.9,862.6C1567.3,862.6 1568.8,856.3 1570.2,855C1571.9,853.4 1573.6,851.9 1575.3,851.9C1576.9,851.9 1578.4,854.1 1580,855C1581.8,856.1 1583.7,857.8 1585.5,857.8C1587,857.8 1588.5,855.3 1590,855C1591.9,854.6 1593.8,854.4 1595.7,854.4C1596.8,854.4 1598,854.6 1599.1,855C1600.2,855.4 1601.4,859.5 1602.5,862C1604.8,867 1607,872.4 1609.3,878.2C1611.6,884 1613.8,890.7 1616.1,897C1619,904.9 1621.8,912.6 1624.7,920.8C1626.7,926.4 1628.6,930.1 1630.6,938.3C1632,944.3 1633.5,958.6 1634.9,966.3C1636.9,976.9 1638.8,992.8 1640.8,992.8C1642.8,992.8 1644.8,971.3 1646.8,958.2C1648.5,947.1 1650.2,924.5 1651.9,920C1653.5,915.8 1655,912.3 1656.6,912.3C1658.1,912.3 1659.7,921.2 1661.2,927C1662.9,933.4 1664.6,946.7 1666.3,951C1668,955.3 1669.7,959.9 1671.4,959.9C1672.9,959.9 1674.5,956.4 1676,955C1677.9,953.3 1679.8,950.6 1681.7,950.6C1683.7,950.6 1685.6,953.3 1687.6,955C1689.3,956.4 1691,957.9 1692.7,959.9C1694.1,961.6 1695.6,963.7 1697,966.7C1698.4,969.7 1699.8,975.9 1701.2,980.3C1703.5,987.4 1705.7,993.8 1708,1000.8C1710,1007 1712,1013.3 1714,1020C1716,1026.7 1718,1033.9 1720,1041C1722.1,1048.6 1724.3,1053.9 1726.4,1064C1727.3,1068.1 1728.1,1076 1729,1080C1730.3,1085.8 1731.5,1093.6 1732.8,1093.6C1734.1,1093.6 1735.3,1086.3 1736.6,1084C1738.3,1081 1740,1077.1 1741.7,1077.1C1743.1,1077.1 1744.6,1079.1 1746,1079.5C1747.3,1079.9 1748.7,1080.3 1750,1080.3" stroke="#b24dff" stroke-width="2.8"/>
<path d="M1003.9,1131.6L1005.8,1127.2L1007.5,1131.4L1011.3,1131.6L1012,992.8L1012.7,1131.6L1027.9,1131.6L1027.9,1131.6C1029,1127.8 1030.2,1124.3 1031.3,1121.5C1032.8,1117.9 1034.3,1114.7 1035.8,1112.4C1037.3,1110.1 1038.9,1108.3 1040.4,1106.8C1042.3,1105 1044.1,1103 1046,1102.2C1048.7,1101.1 1051.3,1100.3 1054,1100C1058.9,1099.5 1063.8,1099.3 1068.7,1099.2C1079.1,1099.1 1089.6,1099 1100,1099C1138.7,1099 1177.3,1099 1216,1099C1218.3,1099 1220.6,1099 1222.9,1099C1224,1099 1225.2,1096.2 1226.3,1093.4C1227.4,1090.6 1228.6,1084.2 1229.7,1076.5C1230.5,1070.8 1231.4,1059.5 1232.2,1051.1C1233.3,1039.7 1234.5,1028.6 1235.6,1017.4C1237.3,1000.5 1239,982.9 1240.7,966.7C1242.4,950.8 1244,934.9 1245.7,921.1C1247.4,907 1249.1,893.7 1250.8,882.2C1252,874.1 1253.2,868.1 1254.4,860C1255.6,851.9 1256.8,843.6 1258,833C1259.3,821.3 1260.7,802.7 1262,790C1263.2,778.9 1264.3,764.5 1265.5,760C1266.4,756.7 1267.2,753.4 1268.1,753.4C1269.1,753.4 1270,757.5 1271,762C1271.7,765.4 1272.5,776.7 1273.2,783.2C1274.6,795.6 1276,810.4 1277.4,817.2C1279.3,826.2 1281.1,835.9 1283,835.9C1284.8,835.9 1286.7,827.7 1288.5,822.3C1289.9,818.1 1291.3,810.3 1292.7,807C1294,803.9 1295.3,800.2 1296.6,800.2C1298.1,800.2 1299.7,809.3 1301.2,812.1C1302.9,815.2 1304.6,819.2 1306.3,819.2C1308,819.2 1309.8,814.6 1311.5,812.9C1313.5,811 1315.4,808.3 1317.4,808.3C1319.4,808.3 1321.4,811.8 1323.4,812.9C1325.1,813.8 1326.8,815.1 1328.5,815.1C1331.6,815.1 1334.7,809.5 1337.8,809.5C1341.2,809.5 1344.6,811.2 1348,811.2C1349.7,811.2 1351.4,809.1 1353.1,807C1354.8,804.9 1356.5,798.4 1358.2,793.3C1359.9,788.2 1361.6,781.9 1363.3,776.3C1365.6,768.8 1367.9,761.6 1370.2,754.2C1372.5,746.9 1374.7,740.3 1377,732.1C1378.7,726.1 1380.3,720.3 1382,712C1383.2,706.2 1384.3,697.9 1385.5,690C1386.5,683.2 1387.5,674.9 1388.5,668C1389.2,663.4 1389.8,657.1 1390.5,655C1391.1,653.1 1391.7,651.3 1392.3,651.3C1393,651.3 1393.8,654.8 1394.5,658C1395.2,660.9 1395.8,667.9 1396.5,672.5C1397.6,680.3 1398.8,691.6 1399.9,694.7C1401,697.8 1402.2,700.6 1403.3,700.6C1404.4,700.6 1405.4,695.8 1406.5,694C1407.7,691.9 1408.9,688.7 1410.1,688.7C1411.6,688.7 1413,694 1414.5,696C1416.2,698.3 1417.8,701.8 1419.5,701.8C1423.2,701.8 1426.9,694.7 1430.6,694.7C1434,694.7 1437.4,704 1440.8,704C1444.2,704 1447.6,695.5 1451,695.5C1454.4,695.5 1457.8,701.8 1461.2,701.8C1465.4,701.8 1469.7,698.1 1473.9,698.1C1475.6,698.1 1477.3,699.9 1479,701.5C1480.7,703.1 1482.5,706.7 1484.2,710C1485.9,713.3 1487.6,718 1489.3,721.9C1492.9,730 1496.4,737.4 1500,745.7C1501.8,750 1503.7,754.6 1505.5,759.1C1511.2,773.1 1516.9,787.2 1522.6,801.7C1527.7,814.7 1532.8,821.6 1537.9,841.5C1539,845.9 1540.2,855.9 1541.3,861.2C1542.9,868.5 1544.4,879.1 1546,879.1C1547.8,879.1 1549.7,865.3 1551.5,859.5C1553.6,852.9 1555.7,841.7 1557.8,841.7C1559.1,841.7 1560.4,849.6 1561.7,852.7C1563.1,856 1564.5,861.2 1565.9,861.2C1567.3,861.2 1568.8,854 1570.2,852.7C1571.3,851.7 1572.5,850.7 1573.6,850.7C1575.3,850.7 1577,850.8 1578.7,851C1580.7,851.2 1582.7,857 1584.7,857C1586.4,857 1588.1,852.7 1589.8,851C1591.2,849.6 1592.6,847.3 1594,847.3C1595.7,847.3 1597.4,848.9 1599.1,851C1600.2,852.4 1601.4,858.1 1602.5,861.2C1604.8,867.4 1607,872.2 1609.3,878.2C1611.6,884.2 1613.8,890.7 1616.1,897C1619,904.9 1621.8,912.5 1624.7,920.8C1626.7,926.5 1628.6,930.2 1630.6,938.5C1632,944.5 1633.5,958.9 1634.9,966.7C1636.9,977.4 1638.8,993.9 1640.8,993.9C1642.8,993.9 1644.8,972.1 1646.8,958.2C1648.5,946.3 1650.2,922.6 1651.9,915.7C1653.5,909.3 1655,902.9 1656.6,902.9C1658.1,902.9 1659.7,916.8 1661.2,924.2C1662.9,932.4 1664.6,946.5 1666.3,949.7C1668,952.9 1669.7,955.7 1671.4,955.7C1674.5,955.7 1677.7,952.8 1680.8,952.8C1683.1,952.8 1685.3,955.1 1687.6,956.5C1689.3,957.5 1691,958.3 1692.7,959.9C1694.1,961.3 1695.6,963.7 1697,966.7C1698.4,969.7 1699.8,975.9 1701.2,980.3C1703.5,987.4 1705.7,993.8 1708,1000.8C1710,1007 1712,1013.3 1714,1020C1716,1026.7 1718,1033.6 1720,1041C1722.1,1048.9 1724.3,1052.6 1726.4,1066C1727.1,1070.6 1727.9,1086.2 1728.6,1090.8C1729.9,1099.2 1731.3,1107.2 1732.6,1107.2C1733.9,1107.2 1735.3,1094.4 1736.6,1090.8C1738.4,1085.9 1740.2,1080 1742,1080C1743.2,1080 1744.4,1084.5 1745.6,1085.1C1747.1,1085.8 1748.5,1086.4 1750,1086.4" stroke="#edb120" stroke-width="2.8"/>
</g>
<text transform="translate(1003.9,1170.4) scale(0.84,1)" font-size="29.7" fill="#ff0000" text-anchor="middle" font-weight="bold" stroke="#ff0000" stroke-width="0.7" stroke-linejoin="round">0</text>
<text transform="translate(1159.3,1170.4) scale(0.84,1)" font-size="29.7" fill="#ff0000" text-anchor="middle" font-weight="bold" stroke="#ff0000" stroke-width="0.7" stroke-linejoin="round">5</text>
<text transform="translate(1314.8,1170.4) scale(0.84,1)" font-size="29.7" fill="#ff0000" text-anchor="middle" font-weight="bold" stroke="#ff0000" stroke-width="0.7" stroke-linejoin="round">10</text>
<text transform="translate(1470.2,1170.4) scale(0.84,1)" font-size="29.7" fill="#ff0000" text-anchor="middle" font-weight="bold" stroke="#ff0000" stroke-width="0.7" stroke-linejoin="round">15</text>
<text transform="translate(1625.7,1170.4) scale(0.84,1)" font-size="29.7" fill="#ff0000" text-anchor="middle" font-weight="bold" stroke="#ff0000" stroke-width="0.7" stroke-linejoin="round">20</text>
<text transform="translate(1750,1170.4) scale(0.84,1)" font-size="29.7" fill="#ff0000" text-anchor="middle" font-weight="bold" stroke="#ff0000" stroke-width="0.7" stroke-linejoin="round">24</text>
<text transform="translate(996.3,1143.1) scale(0.84,1)" font-size="29.7" fill="#ff0000" text-anchor="end" font-weight="bold" stroke="#ff0000" stroke-width="0.7" stroke-linejoin="round">0</text>
<text transform="translate(996.3,1042.2) scale(0.84,1)" font-size="29.7" fill="#ff0000" text-anchor="end" font-weight="bold" stroke="#ff0000" stroke-width="0.7" stroke-linejoin="round">5</text>
<text transform="translate(996.3,941.3) scale(0.84,1)" font-size="29.7" fill="#ff0000" text-anchor="end" font-weight="bold" stroke="#ff0000" stroke-width="0.7" stroke-linejoin="round">10</text>
<text transform="translate(996.3,840.5) scale(0.84,1)" font-size="29.7" fill="#ff0000" text-anchor="end" font-weight="bold" stroke="#ff0000" stroke-width="0.7" stroke-linejoin="round">15</text>
<text transform="translate(996.3,739.6) scale(0.84,1)" font-size="29.7" fill="#ff0000" text-anchor="end" font-weight="bold" stroke="#ff0000" stroke-width="0.7" stroke-linejoin="round">20</text>
<text transform="translate(996.3,638.7) scale(0.84,1)" font-size="29.7" fill="#ff0000" text-anchor="end" font-weight="bold" stroke="#ff0000" stroke-width="0.7" stroke-linejoin="round">25</text>
<rect x="1547.3" y="642.4" width="185.2" height="153.2" fill="#fff" stroke="#2a2a2a" stroke-width="1.9"/>
<path d="M1555.9,664.9h88.9" stroke="#0000ff" stroke-width="4.2" fill="none"/>
<text transform="translate(1651.5,675.8) scale(0.88,1)" font-size="26.5" fill="#000" text-anchor="start" font-weight="bold" stroke="#000" stroke-width="0.7" stroke-linejoin="round">LQR</text>
<path d="M1555.9,700.9h88.9" stroke="#00ff00" stroke-width="2.7" fill="none"/>
<text transform="translate(1651.5,712) scale(0.88,1)" font-size="26.5" fill="#000" text-anchor="start" font-weight="bold" stroke="#000" stroke-width="0.7" stroke-linejoin="round">SMC</text>
<path d="M1555.9,737.4h88.9" stroke="#b24dff" stroke-width="2.7" fill="none"/>
<text transform="translate(1651.5,748.2) scale(0.88,1)" font-size="26.5" fill="#000" text-anchor="start" font-weight="bold" stroke="#000" stroke-width="0.7" stroke-linejoin="round">FOPID</text>
<path d="M1555.9,773.4h88.9" stroke="#edb120" stroke-width="2.7" fill="none"/>
<text transform="translate(1651.5,784.5) scale(0.88,1)" font-size="26.5" fill="#000" text-anchor="start" font-weight="bold" stroke="#000" stroke-width="0.7" stroke-linejoin="round">PID</text>
<text transform="translate(1376.6,617) scale(0.88,1)" font-size="27.5" fill="#111" text-anchor="middle" stroke="#111" stroke-width="0.25">(d)</text>
<text transform="translate(1393.6,1195.2) scale(0.88,1)" font-size="31.5" fill="#303030" text-anchor="middle" font-weight="bold" stroke="#303030" stroke-width="0.7" stroke-linejoin="round">Time</text>
<text transform="translate(944.6,839.4) rotate(-90) scale(1,0.88)" font-size="31.8" fill="#303030" text-anchor="middle" font-weight="bold" stroke="#303030" stroke-width="0.7" stroke-linejoin="round">R (%)</text>
<path d="M533.8,1728.2v-9.6M533.8,1191.2v9.6M701.8,1728.2v-9.6M701.8,1191.2v9.6M869.7,1728.2v-9.6M869.7,1191.2v9.6M1037.7,1728.2v-9.6M1037.7,1191.2v9.6M1205.6,1728.2v-9.6M1205.6,1191.2v9.6M1340,1728.2v-9.6M1340,1191.2v9.6M533.8,1728.2h8.7M1340,1728.2h-8.7M533.8,1657.5h8.7M1340,1657.5h-8.7M533.8,1586.9h8.7M1340,1586.9h-8.7M533.8,1516.2h8.7M1340,1516.2h-8.7M533.8,1445.6h8.7M1340,1445.6h-8.7M533.8,1374.9h8.7M1340,1374.9h-8.7M533.8,1304.3h8.7M1340,1304.3h-8.7M533.8,1233.6h8.7M1340,1233.6h-8.7" stroke="#2a2a2a" stroke-width="1.9" fill="none"/>
<rect x="533.8" y="1191.2" width="806.2" height="537" fill="none" stroke="#2a2a2a" stroke-width="1.9"/>
<clipPath id="ce"><rect x="532.5" y="1189.9" width="808.8" height="539.6"/></clipPath>
<g clip-path="url(#ce)" fill="none" stroke-linejoin="round" stroke-linecap="round">
<path d="M534,1727.6C534.4,1707.8 534.9,1689.7 535.3,1678.2C535.9,1663.1 536.4,1652.8 537,1644.2C537.9,1631.1 538.7,1620.4 539.6,1613.6C540.7,1604.7 541.9,1598.1 543,1594C544.1,1589.9 545.3,1587.3 546.4,1585C547.8,1582.1 549.2,1580.3 550.6,1578C552.3,1575.2 554,1572.8 555.7,1570C558,1566.2 560.2,1561.6 562.5,1558C564.8,1554.4 567,1550.7 569.3,1548C570.7,1546.3 572.2,1544.7 573.6,1543.5C576.2,1541.3 578.7,1539.4 581.3,1538C583.6,1536.8 585.8,1535.9 588.1,1535C591.5,1533.6 594.9,1532.1 598.3,1531C601.7,1529.9 605.1,1528.5 608.5,1528C613,1527.4 617.6,1526.8 622.1,1526.8C627.8,1526.8 633.4,1527.2 639.1,1527.6C647.6,1528.2 656.1,1530.4 664.6,1531.9C673.1,1533.4 681.7,1535.1 690.2,1536.5C698.7,1537.9 707.2,1539.5 715.7,1540.4C724.2,1541.3 732.7,1542.1 741.2,1542.6C748,1543 754.8,1543.3 761.6,1543.5C764.3,1543.6 766.9,1543.7 769.6,1543.7C769.9,1543.7 770.3,1541.8 770.6,1540C771.3,1536 772.1,1517 772.8,1508.1C774.2,1491.1 775.6,1477.5 777,1465.5C778.1,1455.8 779.3,1449.9 780.4,1440C781.5,1430.1 782.7,1412.2 783.8,1404.2C786.1,1388.2 788.3,1379.9 790.6,1370.2C792.9,1360.5 795.1,1351.8 797.4,1344.6C799.7,1337.4 801.9,1325.9 804.2,1325.9C805.6,1325.9 807.1,1338.3 808.5,1344.6C809.9,1350.8 811.3,1358.9 812.7,1363.3C814.1,1367.8 815.6,1372.1 817,1373.6C819,1375.6 821,1376.9 823,1377.3C827.5,1378.2 832.1,1378.4 836.6,1378.7C842.3,1379.1 847.9,1379.5 853.6,1379.5C862.1,1379.5 870.6,1379.2 879.1,1379C887,1378.8 895,1378.9 902.9,1378.3C904,1378.2 905.2,1373.8 906.3,1370.2C907.7,1365.7 909.2,1355.6 910.6,1349.7C912,1343.9 913.4,1338.4 914.8,1334.4C917.1,1328 919.3,1323 921.6,1319.1C924.5,1314.1 927.3,1311.1 930.2,1307.2C933,1303.4 935.9,1296.1 938.7,1296.1C940.1,1296.1 941.5,1301.1 942.9,1303.8C944.3,1306.5 945.8,1310.1 947.2,1312.3C948.6,1314.4 950,1316.7 951.4,1317.4C954,1318.7 956.5,1319.3 959.1,1319.6C966.5,1320.4 973.8,1320.7 981.2,1320.8C992.5,1321 1003.9,1321.2 1015.2,1321.2C1023.1,1321.2 1031.1,1321.2 1039,1321.2C1040.7,1321.2 1042.5,1325.9 1044.2,1329.3C1045.9,1332.6 1047.6,1339 1049.3,1342.9C1051,1346.8 1052.7,1349.9 1054.4,1353.1C1056.3,1356.7 1058.1,1360.1 1060,1363.3C1063.5,1369.3 1066.9,1374.6 1070.4,1380C1074.9,1387 1079.5,1393.8 1084,1400.4C1088,1406.2 1091.9,1412.3 1095.9,1417.4C1099,1421.4 1102.2,1428.5 1105.3,1428.5C1106.4,1428.5 1107.6,1427.1 1108.7,1425.9C1110.1,1424.3 1111.6,1419.9 1113,1417.4C1114.7,1414.5 1116.4,1411.1 1118.1,1409.7C1120.4,1407.8 1122.6,1406.4 1124.9,1405.8C1128.3,1405 1131.7,1404.5 1135.1,1404.3C1140.8,1404 1146.4,1403.8 1152.1,1403.8C1158.3,1403.8 1164.6,1403.8 1170.8,1403.8C1171.9,1403.8 1173.1,1407.7 1174.2,1410.6C1175.9,1414.9 1177.6,1423.7 1179.3,1429.3C1181,1434.9 1182.7,1440.2 1184.4,1444.6C1186.7,1450.5 1188.9,1455.3 1191.2,1459.9C1194,1465.6 1196.9,1470.4 1199.7,1475.3C1202.3,1479.7 1204.8,1488 1207.4,1488C1208.8,1488 1210.2,1484.6 1211.6,1482.1C1213,1479.6 1214.5,1474.8 1215.9,1471.9C1217.3,1469 1218.8,1465.6 1220.2,1464.2C1221.9,1462.5 1223.6,1461.3 1225.3,1460.8C1228.1,1460 1231,1459.6 1233.8,1459.4C1240.6,1459 1247.4,1458.8 1254.2,1458.8C1260.4,1458.8 1266.7,1458.8 1272.9,1458.8C1274,1458.8 1275.2,1461.9 1276.3,1465C1277.4,1468.1 1278.6,1477.8 1279.7,1483.8C1281.4,1492.8 1283.1,1502.2 1284.8,1509.3C1287.1,1518.7 1289.3,1526.3 1291.6,1533.1C1294.4,1541.6 1297.3,1547.2 1300.1,1555.2C1302.7,1562.5 1305.2,1579 1307.8,1579C1308.9,1579 1310.1,1572.3 1311.2,1568.8C1312.6,1564.4 1314,1559.3 1315.4,1555.2C1317.1,1550.2 1318.8,1544.3 1320.5,1541.6C1322.2,1538.8 1324,1536.6 1325.7,1535.7C1328,1534.5 1330.2,1534 1332.5,1533.5C1335,1533 1337.6,1532.5 1340.1,1532.3" stroke="#0000ff" stroke-width="4.1"/>
<path d="M534,1727.6C534.4,1707.8 534.9,1689.7 535.3,1678.2C535.9,1663.1 536.4,1652.8 537,1644.2C537.9,1631.1 538.7,1620.6 539.6,1613.6C540.7,1604.4 541.9,1597.4 543,1593.1C544.1,1588.8 545.3,1585 546.4,1583.8C547.8,1582.4 549.2,1582.4 550.6,1581.2C552.3,1579.8 554,1577.1 555.7,1574.4C558,1570.8 560.2,1565 562.5,1560.8C564.8,1556.6 567,1552.4 569.3,1548.9C570.7,1546.7 572.2,1543.8 573.6,1542.9C575,1542 576.4,1542 577.8,1541.2C579,1540.5 580.1,1538.1 581.3,1537.8C583.6,1537.3 585.8,1537.4 588.1,1537C591.5,1536.4 594.9,1532.3 598.3,1531C601.7,1529.7 605.1,1528.5 608.5,1528C613,1527.4 617.6,1526.8 622.1,1526.8C627.8,1526.8 633.4,1527.2 639.1,1527.6C647.6,1528.2 656.1,1530.4 664.6,1531.9C673.1,1533.4 681.7,1535.1 690.2,1536.5C698.7,1537.9 707.2,1539.5 715.7,1540.4C724.2,1541.3 732.7,1542.1 741.2,1542.6C748,1543 754.8,1543.3 761.6,1543.5C764.3,1543.6 766.9,1543.7 769.6,1543.7C769.9,1543.7 770.3,1541.8 770.6,1540C771.3,1536 772.1,1517 772.8,1508.1C774.2,1491.1 775.6,1477.5 777,1465.5C778.1,1455.8 779.3,1449.9 780.4,1440C781.5,1430.1 782.7,1412.2 783.8,1404.2C786.1,1388.2 788.3,1379.9 790.6,1370.2C792.9,1360.5 795.1,1351.8 797.4,1344.6C799.7,1337.4 801.9,1331.2 804.2,1325.9C805,1324.1 805.7,1321.6 806.5,1321C807.2,1320.5 807.8,1320 808.5,1320C809.3,1320 810.2,1322 811,1324C812.1,1326.8 813.3,1337.5 814.4,1344.6C816.1,1355.5 817.9,1369.1 819.6,1378.7C821.1,1386.8 822.5,1394.5 824,1400C825.4,1405.1 826.7,1412.7 828.1,1412.7C829.2,1412.7 830.4,1407.8 831.5,1404C832.6,1400.2 833.8,1391.6 834.9,1387.2C836.3,1381.8 837.6,1376.8 839,1374C840.5,1371 841.9,1367.6 843.4,1367.6C844.8,1367.6 846.1,1371.1 847.5,1374C848.7,1376.5 849.8,1382.2 851,1385C852.3,1388 853.5,1392.3 854.8,1392.3C856.2,1392.3 857.6,1387 859,1384C860.2,1381.5 861.3,1378 862.5,1376C863.5,1374.3 864.5,1371.9 865.5,1371.9C867.3,1371.9 869.2,1378.4 871,1381C873.1,1384 875.3,1388.9 877.4,1388.9C879.3,1388.9 881.1,1383.8 883,1382C885.1,1380 887.2,1377 889.3,1377C891.5,1377 893.8,1378.5 896,1378.5C898.3,1378.5 900.6,1378.4 902.9,1378.3C904,1378.2 905.2,1373.8 906.3,1370.2C907.7,1365.7 909.2,1355.6 910.6,1349.7C912,1343.9 913.4,1338.4 914.8,1334.4C917.1,1328 919.3,1323 921.6,1319.1C924.5,1314.1 927.3,1311.1 930.2,1307.2C932.5,1304.1 934.7,1300.8 937,1298C938.3,1296.4 939.7,1294 941,1293.5C942.1,1293.1 943.2,1292.7 944.3,1292.7C945.5,1292.7 946.8,1294.9 948,1297C949.4,1299.4 950.9,1305.2 952.3,1310.6C953.5,1315.3 954.8,1323.7 956,1328C957.3,1332.5 958.6,1338.7 959.9,1338.7C961.1,1338.7 962.3,1333.1 963.5,1330C965.1,1325.8 966.8,1316.6 968.4,1316.6C969.8,1316.6 971.1,1320.1 972.5,1322C974,1324.1 975.5,1329 977,1329C978.7,1329 980.3,1324.4 982,1323C984,1321.3 986,1319.1 988,1319.1C991.4,1319.1 994.8,1322.5 998.2,1322.5C1002.2,1322.5 1006.1,1319.1 1010.1,1319.1C1014.1,1319.1 1018,1321.7 1022,1321.7C1027.7,1321.7 1033.3,1321.2 1039,1321.2C1040.7,1321.2 1042.5,1325.9 1044.2,1329.3C1045.9,1332.6 1047.6,1339 1049.3,1342.9C1051,1346.8 1052.7,1349.9 1054.4,1353.1C1056.3,1356.7 1058.1,1360.1 1060,1363.3C1063.5,1369.3 1066.9,1374.6 1070.4,1380C1074.9,1387 1079.5,1393.8 1084,1400.4C1088,1406.2 1091.9,1412.3 1095.9,1417.4C1099,1421.4 1102.2,1428.5 1105.3,1428.5C1106.4,1428.5 1107.6,1427 1108.7,1427C1109.6,1427 1110.6,1431.9 1111.5,1434C1112.4,1436.1 1113.4,1439.5 1114.3,1439.5C1115.4,1439.5 1116.4,1430.7 1117.5,1425C1118.7,1418.8 1119.8,1407.5 1121,1402C1122.1,1396.6 1123.3,1389.3 1124.4,1389.3C1125.6,1389.3 1126.8,1393 1128,1396C1129.3,1399.4 1130.7,1407.3 1132,1412C1133.5,1417.2 1134.9,1425.9 1136.4,1425.9C1137.9,1425.9 1139.5,1418.7 1141,1415C1142.3,1411.8 1143.7,1407.2 1145,1405C1146.2,1403 1147.5,1400.4 1148.7,1400.4C1150.1,1400.4 1151.6,1406 1153,1409C1154.3,1411.7 1155.6,1417.4 1156.9,1417.4C1158.6,1417.4 1160.3,1410.1 1162,1408C1164.4,1405.1 1166.7,1401.6 1169.1,1401.6C1170.2,1401.6 1171.4,1403.2 1172.5,1405C1173.1,1405.9 1173.6,1408.7 1174.2,1410.6C1175.9,1416.4 1177.6,1423.7 1179.3,1429.3C1181,1434.9 1182.7,1440.2 1184.4,1444.6C1186.7,1450.5 1188.9,1455.3 1191.2,1459.9C1194,1465.6 1196.9,1470.4 1199.7,1475.3C1202.3,1479.7 1204.8,1481.4 1207.4,1488C1208.5,1490.9 1209.7,1499.8 1210.8,1503.4C1212.2,1507.8 1213.6,1513.5 1215,1513.5C1216.3,1513.5 1217.7,1507.8 1219,1503C1220,1499.5 1220.9,1493.5 1221.9,1487.2C1223.6,1476.2 1225.3,1453.1 1227,1444.6C1228.4,1437.6 1229.8,1429.3 1231.2,1429.3C1232.3,1429.3 1233.4,1435.1 1234.5,1440C1235.4,1444 1236.3,1455.2 1237.2,1458.2C1238.8,1463.5 1240.4,1465.9 1242,1468C1243.8,1470.4 1245.6,1473.2 1247.4,1473.2C1249.4,1473.2 1251.3,1465.7 1253.3,1461.6C1255,1458 1256.7,1450.2 1258.4,1450.2C1259.4,1450.2 1260.5,1453.5 1261.5,1455C1262.5,1456.4 1263.4,1458.5 1264.4,1459.1C1266.7,1460.5 1268.9,1460.6 1271.2,1461.6C1272.3,1462.1 1273.5,1462.3 1274.6,1463.3C1275.2,1463.8 1275.7,1466 1276.3,1468C1277.4,1471.9 1278.6,1479.5 1279.7,1485C1281.4,1493.3 1283.1,1502.4 1284.8,1509.3C1287.1,1518.5 1289.3,1526.3 1291.6,1533.1C1294.4,1541.6 1297.3,1547.2 1300.1,1555.2C1302.7,1562.5 1305.2,1579 1307.8,1579C1308.7,1579 1309.6,1578.6 1310.5,1578C1311,1577.7 1311.5,1575.6 1312,1575.6C1312.7,1575.6 1313.3,1580.7 1314,1583C1314.7,1585.3 1315.3,1589.3 1316,1589.3C1316.7,1589.3 1317.3,1586.2 1318,1583C1318.8,1579 1319.7,1561.8 1320.5,1555.2C1321.5,1547.3 1322.5,1541 1323.5,1537C1324.5,1533 1325.5,1528 1326.5,1528C1327.5,1528 1328.5,1530 1329.5,1531C1330.5,1532 1331.5,1534 1332.5,1534C1335,1534 1337.6,1534 1340.1,1534" stroke="#00ff00" stroke-width="2.8"/>
<path d="M534,1727.6C534.4,1707.8 534.9,1689.7 535.3,1678.2C535.9,1663.1 536.4,1652.8 537,1644.2C537.9,1631.1 538.7,1620.6 539.6,1613.6C540.7,1604.4 541.9,1597.4 543,1593.1C544.1,1588.8 545.3,1585 546.4,1583.8C547.8,1582.4 549.2,1582.4 550.6,1581.2C552.3,1579.8 554,1577.1 555.7,1574.4C558,1570.8 560.2,1565 562.5,1560.8C564.8,1556.6 567,1552.4 569.3,1548.9C570.7,1546.7 572.2,1543.8 573.6,1542.9C575,1542 576.4,1542 577.8,1541.2C579,1540.5 580.1,1538.1 581.3,1537.8C583.6,1537.3 585.8,1537.4 588.1,1537C591.5,1536.4 594.9,1532.3 598.3,1531C601.7,1529.7 605.1,1528.5 608.5,1528C613,1527.4 617.6,1526.8 622.1,1526.8C627.8,1526.8 633.4,1527.2 639.1,1527.6C647.6,1528.2 656.1,1530.4 664.6,1531.9C673.1,1533.4 681.7,1535.1 690.2,1536.5C698.7,1537.9 707.2,1539.5 715.7,1540.4C724.2,1541.3 732.7,1542.1 741.2,1542.6C748,1543 754.8,1543.3 761.6,1543.5C764.3,1543.6 766.9,1543.7 769.6,1543.7C769.9,1543.7 770.3,1541.8 770.6,1540C771.3,1536 772.1,1517 772.8,1508.1C774.2,1491.1 775.6,1477.5 777,1465.5C778.1,1455.8 779.3,1449.9 780.4,1440C781.5,1430.1 782.7,1412.2 783.8,1404.2C786.1,1388.2 788.3,1379.9 790.6,1370.2C792.9,1360.5 795.1,1351.8 797.4,1344.6C799.7,1337.4 801.9,1335.9 804.2,1325.9C805.1,1321.8 806.1,1308.7 807,1303C807.7,1298.9 808.3,1294.6 809,1293C809.6,1291.6 810.1,1290.2 810.7,1290.2C811.3,1290.2 811.9,1292 812.5,1294C813.3,1296.7 814.2,1306.2 815,1315C815.8,1323.8 816.7,1337.6 817.5,1350C818.3,1362.4 819.2,1377.8 820,1390C821,1404.6 822,1420.1 823,1430C824,1439.9 825,1453.5 826,1453.5C827,1453.5 828,1442.1 829,1435C830.2,1426.7 831.3,1413.3 832.5,1405C834,1394.3 835.5,1385.2 837,1378C838.5,1370.8 840,1364.1 841.5,1360C843.1,1355.6 844.7,1350.1 846.3,1350.1C847.2,1350.1 848.1,1364.4 849,1375C849.8,1384.8 850.7,1404 851.5,1415C852.4,1426.8 853.3,1445 854.2,1445C855.1,1445 856.1,1427.6 857,1420C858.3,1409.1 859.7,1397.1 861,1390C863,1379.5 864.9,1366.4 866.9,1366.4C868.4,1366.4 870,1377 871.5,1382C873.2,1387.6 874.9,1398.2 876.6,1398.2C878.1,1398.2 879.5,1386.7 881,1382C882.4,1377.6 883.7,1370.2 885.1,1370.2C886.9,1370.2 888.7,1376 890.5,1378C892.4,1380 894.2,1382.9 896.1,1382.9C898.4,1382.9 900.6,1380.8 902.9,1378.3C904,1377 905.2,1373.8 906.3,1370.2C907.7,1365.7 909.2,1355.6 910.6,1349.7C912,1343.9 913.4,1338.4 914.8,1334.4C917.1,1328 919.3,1323 921.6,1319.1C924.5,1314.1 927.3,1311.1 930.2,1307.2C932.5,1304.1 934.7,1303.2 937,1298C938.1,1295.4 939.3,1286.5 940.4,1280C941.3,1275.1 942.1,1267.8 943,1264C943.8,1260.3 944.7,1255.3 945.5,1255.3C946.3,1255.3 947.2,1259.6 948,1264C949,1269.3 950,1287.4 951,1300C952,1312.6 953,1328.1 954,1340C955,1351.9 956,1366.1 957,1372C957.8,1376.8 958.6,1382.1 959.4,1382.1C960.3,1382.1 961.1,1375.7 962,1370C963,1363.4 964,1343.8 965,1335C966.3,1323.2 967.7,1307.2 969,1307.2C970.2,1307.2 971.3,1318.5 972.5,1325C973.8,1332.2 975.1,1348.9 976.4,1348.9C978.3,1348.9 980.1,1336.3 982,1332C984.3,1326.6 986.7,1319 989,1319C991.2,1319 993.3,1324.1 995.5,1326C997.4,1327.7 999.4,1330.2 1001.3,1330.2C1002.9,1330.2 1004.4,1326 1006,1323C1007.4,1320.4 1008.7,1312.5 1010.1,1312.5C1012.1,1312.5 1014,1318.5 1016,1320C1018.2,1321.7 1020.4,1323.5 1022.6,1323.5C1025.1,1323.5 1027.5,1321 1030,1321C1033,1321 1036,1321.1 1039,1321.2C1040.7,1321.3 1042.5,1325.9 1044.2,1329.3C1045.9,1332.6 1047.6,1339 1049.3,1342.9C1051,1346.8 1052.7,1349.9 1054.4,1353.1C1056.3,1356.7 1058.1,1360.1 1060,1363.3C1063.5,1369.3 1066.9,1374.6 1070.4,1380C1074.9,1387 1079.5,1393.8 1084,1400.4C1088,1406.2 1091.9,1412.3 1095.9,1417.4C1099,1421.4 1102.2,1428.5 1105.3,1428.5C1106.4,1428.5 1107.6,1428 1108.7,1428C1109.4,1428 1110.1,1436.4 1110.8,1445C1111.5,1453.2 1112.1,1481.4 1112.8,1495C1113.4,1508 1114.1,1528 1114.7,1528C1115.6,1528 1116.6,1503 1117.5,1490C1118.7,1473.8 1119.8,1454.8 1121,1440C1122.2,1425.2 1123.3,1408.2 1124.5,1400C1125.5,1393.2 1126.4,1385.1 1127.4,1385.1C1128.4,1385.1 1129.5,1400.2 1130.5,1410C1131.5,1419.5 1132.5,1435.9 1133.5,1445C1134.4,1453.5 1135.4,1465.9 1136.3,1465.9C1137.4,1465.9 1138.4,1448.9 1139.5,1440C1140.7,1430.3 1141.8,1416 1143,1410C1144,1404.7 1145.1,1398.4 1146.1,1398.4C1147.7,1398.4 1149.4,1406.3 1151,1410C1153,1414.4 1154.9,1422.5 1156.9,1422.5C1158.6,1422.5 1160.3,1412.9 1162,1410C1163.8,1406.9 1165.6,1402.9 1167.4,1402.9C1168.9,1402.9 1170.5,1405.3 1172,1408C1173.3,1410.4 1174.7,1420.6 1176,1425C1177.1,1428.6 1178.2,1431.2 1179.3,1434C1181,1438.3 1182.7,1442.3 1184.4,1446C1186.7,1451 1188.9,1455.5 1191.2,1459.9C1194,1465.4 1196.9,1470.4 1199.7,1475.3C1202.3,1479.7 1204.8,1478.9 1207.4,1488C1208.1,1490.5 1208.8,1510.4 1209.5,1523C1210.3,1538 1211.2,1556.3 1212,1572C1213.1,1592.8 1214.2,1632 1215.3,1632C1216.4,1632 1217.5,1606.8 1218.6,1590C1219.5,1576.7 1220.3,1557 1221.2,1541C1222.1,1524.4 1223,1508.3 1223.9,1492C1224.8,1476.3 1225.6,1457.7 1226.5,1445C1227.4,1431.9 1228.3,1419.3 1229.2,1412C1230.3,1403.3 1231.3,1392.7 1232.4,1392.7C1233.4,1392.7 1234.3,1411.1 1235.3,1425C1236.1,1436 1236.8,1450.1 1237.6,1470C1238.1,1482.1 1238.5,1505.3 1239,1520C1239.5,1536.8 1240.1,1555.9 1240.6,1565C1241.3,1577 1242,1590.2 1242.7,1590.2C1243.5,1590.2 1244.2,1584 1245,1582C1245.8,1579.9 1246.6,1579.6 1247.4,1577C1248,1575.2 1248.5,1571.3 1249.1,1566.6C1250.2,1557.4 1251.3,1531.1 1252.4,1516C1253.5,1500.4 1254.7,1479.9 1255.8,1473.8C1256.9,1467.7 1258.1,1462 1259.2,1462C1260.5,1462 1261.7,1467.3 1263,1469C1264.5,1471.1 1266.1,1474 1267.6,1474C1269.3,1474 1271,1471.2 1272.7,1471.2C1274,1471.2 1275.2,1477.7 1276.5,1482C1277.7,1486 1278.8,1492.6 1280,1497C1281.6,1503 1283.2,1508 1284.8,1513C1287.1,1520.1 1289.3,1526.8 1291.6,1533.1C1294.4,1541 1297.3,1547.2 1300.1,1555.2C1302.7,1562.5 1305.2,1577.7 1307.8,1579C1308.8,1579.5 1309.9,1579.3 1310.9,1580C1311.5,1580.4 1312.2,1596.5 1312.8,1608C1313.4,1618.9 1314,1639.5 1314.6,1650C1315.3,1662.3 1316,1679.1 1316.7,1679.1C1317.5,1679.1 1318.2,1662.5 1319,1650C1319.8,1636.4 1320.7,1609.3 1321.5,1592C1322.4,1574 1323.2,1550.2 1324.1,1543C1324.9,1536 1325.8,1529.5 1326.6,1529.5C1327.3,1529.5 1327.9,1535.3 1328.6,1540C1329.3,1544.7 1329.9,1556.5 1330.6,1562C1331.4,1568.9 1332.3,1578.4 1333.1,1578.4C1333.8,1578.4 1334.6,1571.6 1335.3,1568C1336,1564.4 1336.8,1559.4 1337.5,1557C1338.4,1554 1339.3,1551.4 1340.2,1550.5" stroke="#b24dff" stroke-width="2.8"/>
<path d="M534,1727.6C534.4,1707.8 534.9,1689.7 535.3,1678.2C535.9,1663.1 536.4,1652.8 537,1644.2C537.9,1631.1 538.7,1620.6 539.6,1613.6C540.7,1604.4 541.9,1597.4 543,1593.1C544.1,1588.8 545.3,1585 546.4,1583.8C547.8,1582.4 549.2,1582.4 550.6,1581.2C552.3,1579.8 554,1577.1 555.7,1574.4C558,1570.8 560.2,1565 562.5,1560.8C564.8,1556.6 567,1552.4 569.3,1548.9C570.7,1546.7 572.2,1543.8 573.6,1542.9C575,1542 576.4,1542 577.8,1541.2C579,1540.5 580.1,1538.1 581.3,1537.8C583.6,1537.3 585.8,1537.4 588.1,1537C591.5,1536.4 594.9,1532.3 598.3,1531C601.7,1529.7 605.1,1528.5 608.5,1528C613,1527.4 617.6,1526.8 622.1,1526.8C627.8,1526.8 633.4,1527.2 639.1,1527.6C647.6,1528.2 656.1,1530.4 664.6,1531.9C673.1,1533.4 681.7,1535.1 690.2,1536.5C698.7,1537.9 707.2,1539.5 715.7,1540.4C724.2,1541.3 732.7,1542.1 741.2,1542.6C748,1543 754.8,1543.3 761.6,1543.5C764.3,1543.6 766.9,1543.7 769.6,1543.7C769.9,1543.7 770.3,1541.8 770.6,1540C771.3,1536 772.1,1517 772.8,1508.1C774.2,1491.1 775.6,1477.5 777,1465.5C778.1,1455.8 779.3,1449.9 780.4,1440C781.5,1430.1 782.7,1412.2 783.8,1404.2C786.1,1388.2 788.3,1379.9 790.6,1370.2C792.9,1360.5 795.1,1351.8 797.4,1344.6C799.7,1337.4 801.9,1336.2 804.2,1325.9C805.3,1320.8 806.5,1304.5 807.6,1293.6C808.5,1285.2 809.3,1274.4 810.2,1268.1C810.8,1264 811.3,1257.9 811.9,1257.9C812.5,1257.9 813,1262.9 813.6,1268.1C814.2,1273.3 814.7,1290.8 815.3,1302.1C815.9,1313.4 816.4,1320.2 817,1336C817.5,1350 818,1384.1 818.5,1404C818.8,1417.3 819.2,1427.9 819.5,1440C819.9,1453.3 820.2,1466.5 820.6,1480C821.4,1509.5 822.2,1540.9 823,1570C823.7,1596.6 824.5,1647.6 825.2,1647.6C826,1647.6 826.7,1618.4 827.5,1605C828.2,1593.4 828.8,1583.8 829.5,1572C830.7,1550.2 832,1523.2 833.2,1500C834.3,1478.7 835.5,1453.1 836.6,1438.2C838,1419.8 839.4,1406.5 840.8,1395.7C842.7,1381.3 844.5,1361.6 846.4,1361.6C847.7,1361.6 848.9,1390.2 850.2,1404.2C851.6,1419.7 853,1450.1 854.4,1450.1C856.4,1450.1 858.4,1416.9 860.4,1404.2C862.7,1389.8 864.9,1367.6 867.2,1367.6C869.2,1367.6 871.2,1382.3 873.2,1387.2C875.2,1392 877.1,1398.7 879.1,1398.7C880.8,1398.7 882.5,1384.9 884.2,1380.4C885.8,1376.1 887.4,1370.2 889,1370.2C890.8,1370.2 892.6,1377.1 894.4,1378.7C896.4,1380.5 898.4,1382.4 900.4,1382.4C901.5,1382.4 902.7,1381.6 903.8,1380.4C904.6,1379.5 905.5,1373.8 906.3,1370.2C907.7,1363.9 909.2,1355.6 910.6,1349.7C912,1343.9 913.4,1338.4 914.8,1334.4C917.1,1328 919.3,1323 921.6,1319.1C924.5,1314.1 927.3,1311 930.2,1307.2C932.5,1304.2 934.7,1303.8 937,1298.7C938.1,1296.1 939.3,1285.7 940.4,1276.6C941.2,1269.9 942.1,1257.8 942.9,1251C943.9,1242.6 945,1230.3 946,1230.3C947,1230.3 947.9,1240.6 948.9,1251C949.7,1259.9 950.6,1283 951.4,1302.1C952.3,1322 953.1,1347.1 954,1370.2C954.8,1392.4 955.7,1418.1 956.5,1438.2C957.2,1455.9 958,1485.9 958.7,1485.9C959.7,1485.9 960.6,1455.6 961.6,1438.2C962.7,1417.8 963.9,1384.6 965,1370.2C966.4,1352 967.9,1331 969.3,1331C970.4,1331 971.6,1346 972.7,1353.1C973.8,1360.2 975,1373.6 976.1,1373.6C978.1,1373.6 980.1,1353.9 982.1,1344.6C984.5,1333.3 987,1312 989.4,1312C991.5,1312 993.6,1327.1 995.7,1332.7C997.6,1337.7 999.4,1345.5 1001.3,1345.5C1002.8,1345.5 1004.4,1332.7 1005.9,1325.9C1007.3,1319.7 1008.7,1306.3 1010.1,1306.3C1012.1,1306.3 1014.1,1319.3 1016.1,1324.2C1018.3,1329.5 1020.4,1337.5 1022.6,1337.5C1024.7,1337.5 1026.7,1328.8 1028.8,1325.9C1031.1,1322.7 1033.4,1318.3 1035.7,1318.3C1037.1,1318.3 1038.5,1320.1 1039.9,1321.7C1041.3,1323.3 1042.8,1326.3 1044.2,1329.3C1045.9,1332.9 1047.6,1339 1049.3,1342.9C1051,1346.8 1052.7,1349.9 1054.4,1353.1C1056.3,1356.7 1058.1,1360.1 1060,1363.3C1063.5,1369.3 1066.9,1374.6 1070.4,1380C1074.9,1387 1079.5,1393.8 1084,1400.4C1088,1406.2 1091.9,1412.3 1095.9,1417.4C1099,1421.4 1102.2,1428.5 1105.3,1428.5C1106.4,1428.5 1107.6,1426.8 1108.7,1426.8C1109.3,1426.8 1109.8,1430.6 1110.4,1436.1C1111,1441.6 1111.5,1487.2 1112.1,1504.2C1113,1530.2 1113.8,1564.6 1114.7,1564.6C1115.8,1564.6 1117,1508.8 1118.1,1487.2C1119.5,1460.5 1120.9,1434.5 1122.3,1419.1C1124,1400.4 1125.7,1377.4 1127.4,1377.4C1128.8,1377.4 1130.3,1416.4 1131.7,1436.1C1133.1,1455.3 1134.5,1494 1135.9,1494C1137.3,1494 1138.8,1458.3 1140.2,1444.6C1141.7,1430 1143.3,1407.2 1144.8,1407.2C1146,1407.2 1147.2,1422.5 1148.4,1422.5C1149.5,1422.5 1150.7,1413.2 1151.8,1413.2C1153.5,1413.2 1155.2,1431.9 1156.9,1431.9C1158.4,1431.9 1160,1416 1161.5,1408.9C1163.1,1401.6 1164.6,1388.5 1166.2,1388.5C1168.3,1388.5 1170.4,1407 1172.5,1415.7C1174.2,1422.8 1175.9,1431.5 1177.6,1436.1C1179.9,1442.2 1182.1,1445.8 1184.4,1449.7C1186.7,1453.6 1188.9,1456.2 1191.2,1459.9C1194,1464.5 1196.9,1470.4 1199.7,1475.3C1202.3,1479.7 1204.8,1478.7 1207.4,1488C1208.1,1490.4 1208.7,1511.6 1209.4,1524.4C1210.2,1540.3 1211.1,1558.7 1211.9,1575C1213,1597.2 1214.2,1639.5 1215.3,1639.5C1216.4,1639.5 1217.6,1610.8 1218.7,1591.9C1219.5,1578 1220.4,1557.9 1221.2,1541.3C1222.1,1524.1 1222.9,1507.8 1223.8,1490.6C1224.6,1474 1225.5,1454.3 1226.3,1440C1227.2,1424.6 1228.1,1409.7 1229,1400C1230.1,1387.7 1231.3,1371.5 1232.4,1371.5C1233.4,1371.5 1234.5,1391.8 1235.5,1405C1236.3,1414.8 1237,1419.9 1237.8,1440C1238.2,1449.6 1238.5,1486 1238.9,1507.5C1239.3,1531 1239.7,1561.6 1240.1,1575C1240.7,1596.3 1241.4,1618.5 1242,1618.5C1242.7,1618.5 1243.3,1595.7 1244,1592C1244.8,1587.4 1245.7,1586.3 1246.5,1583.5C1247.4,1580.6 1248.2,1579.6 1249.1,1575C1249.9,1570.6 1250.8,1552.1 1251.6,1541.3C1252.7,1526.6 1253.9,1509.5 1255,1499.1C1255.8,1491.4 1256.7,1480.5 1257.5,1480.5C1258.6,1480.5 1259.8,1486.4 1260.9,1486.4C1262.6,1486.4 1264.2,1468.7 1265.9,1468.7C1267.6,1468.7 1269.3,1480.5 1271,1480.5C1272.1,1480.5 1273.3,1473.8 1274.4,1473.8C1275.5,1473.8 1276.7,1482.4 1277.8,1487.3C1279.5,1494.4 1281.1,1505.3 1282.8,1510.9C1285.7,1520.8 1288.7,1525.6 1291.6,1533.1C1294.4,1540.4 1297.3,1547.2 1300.1,1555.2C1302.7,1562.5 1305.2,1579 1307.8,1579C1308.8,1579 1309.7,1577.6 1310.7,1577.6C1311.3,1577.6 1311.8,1594.2 1312.4,1608.8C1312.9,1622.5 1313.5,1660.2 1314,1676.3C1314.9,1702.4 1315.7,1735 1316.6,1735C1317.4,1735 1318.3,1699.4 1319.1,1676.3C1319.9,1653.2 1320.8,1612.5 1321.6,1591.9C1322.5,1570.5 1323.3,1548.3 1324.2,1541.3C1325,1534.6 1325.9,1528.6 1326.7,1528.6C1327.5,1528.6 1328.4,1555.6 1329.2,1575C1329.8,1588.2 1330.3,1614.8 1330.9,1625.7C1331.6,1639.8 1332.4,1656.2 1333.1,1656.2C1333.8,1656.2 1334.4,1633.7 1335.1,1625.7C1336,1615.3 1336.8,1605 1337.7,1600.3C1338.5,1595.8 1339.4,1591.6 1340.2,1591" stroke="#edb120" stroke-width="2.8"/>
</g>
<text transform="translate(533.8,1766.5) scale(0.84,1)" font-size="29.7" fill="#ff0000" text-anchor="middle" font-weight="bold" stroke="#ff0000" stroke-width="0.7" stroke-linejoin="round">0</text>
<text transform="translate(701.8,1766.5) scale(0.84,1)" font-size="29.7" fill="#ff0000" text-anchor="middle" font-weight="bold" stroke="#ff0000" stroke-width="0.7" stroke-linejoin="round">5</text>
<text transform="translate(869.7,1766.5) scale(0.84,1)" font-size="29.7" fill="#ff0000" text-anchor="middle" font-weight="bold" stroke="#ff0000" stroke-width="0.7" stroke-linejoin="round">10</text>
<text transform="translate(1037.7,1766.5) scale(0.84,1)" font-size="29.7" fill="#ff0000" text-anchor="middle" font-weight="bold" stroke="#ff0000" stroke-width="0.7" stroke-linejoin="round">15</text>
<text transform="translate(1205.6,1766.5) scale(0.84,1)" font-size="29.7" fill="#ff0000" text-anchor="middle" font-weight="bold" stroke="#ff0000" stroke-width="0.7" stroke-linejoin="round">20</text>
<text transform="translate(1340,1766.5) scale(0.84,1)" font-size="29.7" fill="#ff0000" text-anchor="middle" font-weight="bold" stroke="#ff0000" stroke-width="0.7" stroke-linejoin="round">24</text>
<text transform="translate(526.2,1739.7) scale(0.84,1)" font-size="29.7" fill="#ff0000" text-anchor="end" font-weight="bold" stroke="#ff0000" stroke-width="0.7" stroke-linejoin="round">0</text>
<text transform="translate(526.2,1669) scale(0.84,1)" font-size="29.7" fill="#ff0000" text-anchor="end" font-weight="bold" stroke="#ff0000" stroke-width="0.7" stroke-linejoin="round">50</text>
<text transform="translate(526.2,1598.4) scale(0.84,1)" font-size="29.7" fill="#ff0000" text-anchor="end" font-weight="bold" stroke="#ff0000" stroke-width="0.7" stroke-linejoin="round">100</text>
<text transform="translate(526.2,1527.7) scale(0.84,1)" font-size="29.7" fill="#ff0000" text-anchor="end" font-weight="bold" stroke="#ff0000" stroke-width="0.7" stroke-linejoin="round">150</text>
<text transform="translate(526.2,1457.1) scale(0.84,1)" font-size="29.7" fill="#ff0000" text-anchor="end" font-weight="bold" stroke="#ff0000" stroke-width="0.7" stroke-linejoin="round">200</text>
<text transform="translate(526.2,1386.4) scale(0.84,1)" font-size="29.7" fill="#ff0000" text-anchor="end" font-weight="bold" stroke="#ff0000" stroke-width="0.7" stroke-linejoin="round">250</text>
<text transform="translate(526.2,1315.8) scale(0.84,1)" font-size="29.7" fill="#ff0000" text-anchor="end" font-weight="bold" stroke="#ff0000" stroke-width="0.7" stroke-linejoin="round">300</text>
<text transform="translate(526.2,1245.1) scale(0.84,1)" font-size="29.7" fill="#ff0000" text-anchor="end" font-weight="bold" stroke="#ff0000" stroke-width="0.7" stroke-linejoin="round">350</text>
<rect x="1131.9" y="1210" width="185.2" height="153.2" fill="#fff" stroke="#2a2a2a" stroke-width="1.9"/>
<path d="M1140.5,1232.5h88.9" stroke="#0000ff" stroke-width="4.2" fill="none"/>
<text transform="translate(1236.1,1243.4) scale(0.88,1)" font-size="26.5" fill="#000" text-anchor="start" font-weight="bold" stroke="#000" stroke-width="0.7" stroke-linejoin="round">LQR</text>
<path d="M1140.5,1268.5h88.9" stroke="#00ff00" stroke-width="2.7" fill="none"/>
<text transform="translate(1236.1,1279.6) scale(0.88,1)" font-size="26.5" fill="#000" text-anchor="start" font-weight="bold" stroke="#000" stroke-width="0.7" stroke-linejoin="round">SMC</text>
<path d="M1140.5,1305h88.9" stroke="#b24dff" stroke-width="2.7" fill="none"/>
<text transform="translate(1236.1,1315.8) scale(0.88,1)" font-size="26.5" fill="#000" text-anchor="start" font-weight="bold" stroke="#000" stroke-width="0.7" stroke-linejoin="round">FOPID</text>
<path d="M1140.5,1341h88.9" stroke="#edb120" stroke-width="2.7" fill="none"/>
<text transform="translate(1236.1,1352.1) scale(0.88,1)" font-size="26.5" fill="#000" text-anchor="start" font-weight="bold" stroke="#000" stroke-width="0.7" stroke-linejoin="round">PID</text>
<text transform="translate(928.2,1177) scale(0.88,1)" font-size="27.5" fill="#111" text-anchor="middle" stroke="#111" stroke-width="0.25">(e)</text>
<text transform="translate(941.1,1776.5) scale(0.88,1)" font-size="31.5" fill="#303030" text-anchor="middle" font-weight="bold" stroke="#303030" stroke-width="0.7" stroke-linejoin="round">Time</text>
<text transform="translate(463.3,1478.4) rotate(-90) scale(1,0.88)" font-size="31.8" fill="#303030" text-anchor="middle" font-weight="bold" stroke="#303030" stroke-width="0.7" stroke-linejoin="round">W* [rad/s]</text>
</svg>
</body></html>
